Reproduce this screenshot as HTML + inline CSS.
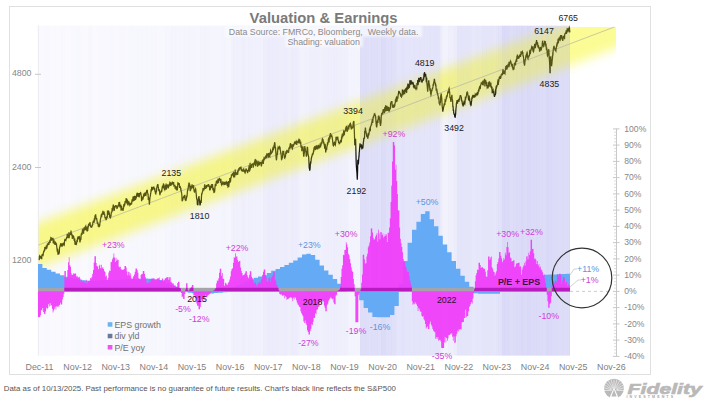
<!DOCTYPE html>
<html><head><meta charset="utf-8"><style>
html,body{margin:0;padding:0;background:#fff;}
body{width:724px;height:404px;overflow:hidden;position:relative;font-family:"Liberation Sans",sans-serif;}
svg{position:absolute;left:0;top:0;}
</style></head><body>
<svg width="724" height="404" viewBox="0 0 724 404" font-family="Liberation Sans, sans-serif">
<defs>
<filter id="soft" x="-10%" y="-50%" width="120%" height="200%"><feGaussianBlur stdDeviation="1.2"/></filter>
<clipPath id="magclip"><path d="M38.0 291.4 L38.00 316.91 L38.73 316.91 L38.73 316.91 L39.47 316.91 L39.47 316.91 L40.20 316.91 L40.20 315.24 L40.93 315.24 L40.93 310.06 L41.66 310.06 L41.66 310.43 L42.40 310.43 L42.40 308.04 L43.13 308.04 L43.13 311.97 L43.86 311.97 L43.86 313.70 L44.60 313.70 L44.60 314.15 L45.33 314.15 L45.33 311.38 L46.06 311.38 L46.06 307.77 L46.80 307.77 L46.80 309.13 L47.53 309.13 L47.53 307.88 L48.26 307.88 L48.26 304.13 L48.99 304.13 L48.99 306.58 L49.73 306.58 L49.73 303.11 L50.46 303.11 L50.46 305.69 L51.19 305.69 L51.19 305.28 L51.93 305.28 L51.93 308.78 L52.66 308.78 L52.66 312.52 L53.39 312.52 L53.39 310.45 L54.13 310.45 L54.13 308.86 L54.86 308.86 L54.86 306.81 L55.59 306.81 L55.59 309.44 L56.32 309.44 L56.32 306.35 L57.06 306.35 L57.06 307.11 L57.79 307.11 L57.79 305.86 L58.52 305.86 L58.52 307.04 L59.26 307.04 L59.26 304.94 L59.99 304.94 L59.99 302.76 L60.72 302.76 L60.72 304.57 L61.46 304.57 L61.46 304.56 L62.19 304.56 L62.19 299.39 L62.92 299.39 L62.92 297.09 L63.65 297.09 L63.65 293.80 L64.39 293.80 L64.39 271.09 L65.12 271.09 L65.12 271.09 L65.85 271.09 L65.85 278.34 L66.59 278.34 L66.59 278.60 L67.32 278.60 L67.32 270.01 L68.05 270.01 L68.05 262.31 L68.79 262.31 L68.79 257.27 L69.52 257.27 L69.52 265.30 L70.25 265.30 L70.25 266.76 L70.98 266.76 L70.98 273.18 L71.72 273.18 L71.72 274.98 L72.45 274.98 L72.45 274.53 L73.18 274.53 L73.18 273.33 L73.92 273.33 L73.92 273.72 L74.65 273.72 L74.65 273.52 L75.38 273.52 L75.38 273.52 L76.12 273.52 L76.12 276.45 L76.85 276.45 L76.85 275.92 L77.58 275.92 L77.58 277.26 L78.31 277.26 L78.31 277.41 L79.05 277.41 L79.05 276.77 L79.78 276.77 L79.78 278.51 L80.51 278.51 L80.51 281.54 L81.25 281.54 L81.25 279.70 L81.98 279.70 L81.98 282.03 L82.71 282.03 L82.71 280.55 L83.45 280.55 L83.45 281.30 L84.18 281.30 L84.18 282.49 L84.91 282.49 L84.91 281.84 L85.65 281.84 L85.65 283.87 L86.38 283.87 L86.38 279.83 L87.11 279.83 L87.11 283.33 L87.84 283.33 L87.84 281.56 L88.58 281.56 L88.58 280.70 L89.31 280.70 L89.31 280.82 L90.04 280.82 L90.04 277.89 L90.78 277.89 L90.78 278.56 L91.51 278.56 L91.51 276.67 L92.24 276.67 L92.24 273.71 L92.98 273.71 L92.98 270.06 L93.71 270.06 L93.71 262.46 L94.44 262.46 L94.44 256.14 L95.17 256.14 L95.17 256.14 L95.91 256.14 L95.91 262.90 L96.64 262.90 L96.64 265.94 L97.37 265.94 L97.37 266.52 L98.11 266.52 L98.11 269.16 L98.84 269.16 L98.84 265.45 L99.57 265.45 L99.57 264.67 L100.31 264.67 L100.31 268.23 L101.04 268.23 L101.04 264.75 L101.77 264.75 L101.77 268.36 L102.50 268.36 L102.50 267.12 L103.24 267.12 L103.24 269.06 L103.97 269.06 L103.97 270.87 L104.70 270.87 L104.70 272.06 L105.44 272.06 L105.44 276.50 L106.17 276.50 L106.17 275.42 L106.90 275.42 L106.90 280.07 L107.64 280.07 L107.64 277.96 L108.37 277.96 L108.37 272.52 L109.10 272.52 L109.10 270.56 L109.83 270.56 L109.83 271.09 L110.57 271.09 L110.57 262.31 L111.30 262.31 L111.30 261.67 L112.03 261.67 L112.03 259.26 L112.77 259.26 L112.77 257.60 L113.50 257.60 L113.50 253.54 L114.23 253.54 L114.23 257.55 L114.97 257.55 L114.97 262.04 L115.70 262.04 L115.70 257.87 L116.43 257.87 L116.43 260.63 L117.16 260.63 L117.16 259.41 L117.90 259.41 L117.90 259.88 L118.63 259.88 L118.63 266.47 L119.36 266.47 L119.36 267.20 L120.10 267.20 L120.10 266.72 L120.83 266.72 L120.83 269.13 L121.56 269.13 L121.56 269.60 L122.30 269.60 L122.30 269.98 L123.03 269.98 L123.03 269.64 L123.76 269.64 L123.76 268.92 L124.49 268.92 L124.49 266.05 L125.23 266.05 L125.23 266.05 L125.96 266.05 L125.96 267.56 L126.69 267.56 L126.69 271.56 L127.43 271.56 L127.43 275.16 L128.16 275.16 L128.16 271.87 L128.89 271.87 L128.89 272.22 L129.63 272.22 L129.63 275.43 L130.36 275.43 L130.36 273.31 L131.09 273.31 L131.09 278.21 L131.82 278.21 L131.82 279.29 L132.56 279.29 L132.56 277.47 L133.29 277.47 L133.29 276.08 L134.02 276.08 L134.02 274.54 L134.76 274.54 L134.76 271.83 L135.49 271.83 L135.49 268.49 L136.22 268.49 L136.22 268.49 L136.96 268.49 L136.96 270.06 L137.69 270.06 L137.69 272.87 L138.42 272.87 L138.42 278.29 L139.15 278.29 L139.15 279.05 L139.89 279.05 L139.89 280.24 L140.62 280.24 L140.62 274.97 L141.35 274.97 L141.35 273.95 L142.09 273.95 L142.09 273.65 L142.82 273.65 L142.82 271.09 L143.55 271.09 L143.55 271.09 L144.29 271.09 L144.29 273.63 L145.02 273.63 L145.02 277.00 L145.75 277.00 L145.75 279.54 L146.48 279.54 L146.48 282.83 L147.22 282.83 L147.22 283.20 L147.95 283.20 L147.95 282.14 L148.68 282.14 L148.68 282.99 L149.42 282.99 L149.42 279.62 L150.15 279.62 L150.15 281.60 L150.88 281.60 L150.88 279.10 L151.62 279.10 L151.62 278.56 L152.35 278.56 L152.35 278.56 L153.08 278.56 L153.08 278.13 L153.81 278.13 L153.81 278.54 L154.55 278.54 L154.55 279.81 L155.28 279.81 L155.28 280.48 L156.01 280.48 L156.01 279.70 L156.75 279.70 L156.75 278.56 L157.48 278.56 L157.48 278.56 L158.21 278.56 L158.21 278.21 L158.95 278.21 L158.95 277.54 L159.68 277.54 L159.68 280.25 L160.41 280.25 L160.41 280.90 L161.14 280.90 L161.14 280.05 L161.88 280.05 L161.88 278.22 L162.61 278.22 L162.61 279.35 L163.34 279.35 L163.34 280.61 L164.08 280.61 L164.08 279.74 L164.81 279.74 L164.81 278.20 L165.54 278.20 L165.54 278.25 L166.28 278.25 L166.28 277.26 L167.01 277.26 L167.01 277.26 L167.74 277.26 L167.74 277.09 L168.47 277.09 L168.47 279.76 L169.21 279.76 L169.21 277.26 L169.94 277.26 L169.94 277.26 L170.67 277.26 L170.67 281.68 L171.41 281.68 L171.41 282.60 L172.14 282.60 L172.14 283.38 L172.87 283.38 L172.87 283.27 L173.61 283.27 L173.61 285.49 L174.34 285.49 L174.34 285.79 L175.07 285.79 L175.07 285.38 L175.80 285.38 L175.80 286.80 L176.54 286.80 L176.54 286.98 L177.27 286.98 L177.27 282.99 L178.00 282.99 L178.00 281.65 L178.74 281.65 L178.74 281.65 L179.47 281.65 L179.47 288.12 L180.20 288.12 L180.20 288.47 L180.94 288.47 L180.94 293.05 L181.67 293.05 L181.67 297.25 L182.40 297.25 L182.40 296.56 L183.13 296.56 L183.13 298.88 L183.87 298.88 L183.87 298.88 L184.60 298.88 L184.60 293.88 L185.33 293.88 L185.33 289.62 L186.07 289.62 L186.07 283.27 L186.80 283.27 L186.80 283.27 L187.53 283.27 L187.53 290.07 L188.27 290.07 L188.27 292.05 L189.00 292.05 L189.00 290.42 L189.73 290.42 L189.73 288.65 L190.46 288.65 L190.46 287.71 L191.20 287.71 L191.20 286.80 L191.93 286.80 L191.93 285.06 L192.66 285.06 L192.66 285.06 L193.40 285.06 L193.40 295.46 L194.13 295.46 L194.13 295.38 L194.86 295.38 L194.86 298.05 L195.60 298.05 L195.60 298.62 L196.33 298.62 L196.33 303.48 L197.06 303.48 L197.06 305.86 L197.79 305.86 L197.79 305.65 L198.53 305.65 L198.53 309.27 L199.26 309.27 L199.26 309.27 L199.99 309.27 L199.99 306.94 L200.73 306.94 L200.73 301.25 L201.46 301.25 L201.46 299.79 L202.19 299.79 L202.19 301.74 L202.93 301.74 L202.93 298.88 L203.66 298.88 L203.66 296.31 L204.39 296.31 L204.39 300.29 L205.12 300.29 L205.12 295.50 L205.86 295.50 L205.86 297.00 L206.59 297.00 L206.59 297.25 L207.32 297.25 L207.32 295.76 L208.06 295.76 L208.06 294.91 L208.79 294.91 L208.79 294.28 L209.52 294.28 L209.52 293.87 L210.26 293.87 L210.26 292.70 L210.99 292.70 L210.99 292.04 L211.72 292.04 L211.72 291.73 L212.45 291.73 L212.45 291.07 L213.19 291.07 L213.19 290.86 L213.92 290.86 L213.92 290.39 L214.65 290.39 L214.65 289.45 L215.39 289.45 L215.39 288.13 L216.12 288.13 L216.12 283.27 L216.85 283.27 L216.85 280.60 L217.59 280.60 L217.59 280.63 L218.32 280.63 L218.32 278.37 L219.05 278.37 L219.05 272.80 L219.78 272.80 L219.78 268.65 L220.52 268.65 L220.52 268.65 L221.25 268.65 L221.25 275.71 L221.98 275.71 L221.98 272.88 L222.72 272.88 L222.72 278.49 L223.45 278.49 L223.45 278.90 L224.18 278.90 L224.18 285.87 L224.92 285.87 L224.92 282.66 L225.65 282.66 L225.65 283.26 L226.38 283.26 L226.38 284.54 L227.11 284.54 L227.11 284.79 L227.85 284.79 L227.85 282.85 L228.58 282.85 L228.58 281.76 L229.31 281.76 L229.31 279.59 L230.05 279.59 L230.05 276.61 L230.78 276.61 L230.78 271.25 L231.51 271.25 L231.51 269.04 L232.25 269.04 L232.25 268.18 L232.98 268.18 L232.98 262.74 L233.71 262.74 L233.71 257.27 L234.44 257.27 L234.44 257.65 L235.18 257.65 L235.18 253.29 L235.91 253.29 L235.91 256.46 L236.64 256.46 L236.64 256.46 L237.38 256.46 L237.38 260.07 L238.11 260.07 L238.11 261.96 L238.84 261.96 L238.84 261.25 L239.58 261.25 L239.58 260.85 L240.31 260.85 L240.31 267.51 L241.04 267.51 L241.04 271.04 L241.77 271.04 L241.77 272.88 L242.51 272.88 L242.51 275.58 L243.24 275.58 L243.24 274.97 L243.97 274.97 L243.97 274.44 L244.71 274.44 L244.71 273.32 L245.44 273.32 L245.44 271.25 L246.17 271.25 L246.17 271.25 L246.91 271.25 L246.91 274.93 L247.64 274.93 L247.64 276.86 L248.37 276.86 L248.37 278.20 L249.10 278.20 L249.10 274.64 L249.84 274.64 L249.84 271.25 L250.57 271.25 L250.57 271.25 L251.30 271.25 L251.30 276.50 L252.04 276.50 L252.04 277.94 L252.77 277.94 L252.77 280.44 L253.50 280.44 L253.50 282.97 L254.24 282.97 L254.24 282.79 L254.97 282.79 L254.97 281.99 L255.70 281.99 L255.70 284.17 L256.43 284.17 L256.43 286.53 L257.17 286.53 L257.17 284.52 L257.90 284.52 L257.90 283.48 L258.63 283.48 L258.63 282.21 L259.37 282.21 L259.37 281.65 L260.10 281.65 L260.10 282.95 L260.83 282.95 L260.83 279.76 L261.57 279.76 L261.57 278.49 L262.30 278.49 L262.30 274.86 L263.03 274.86 L263.03 271.79 L263.76 271.79 L263.76 269.46 L264.50 269.46 L264.50 269.46 L265.23 269.46 L265.23 275.04 L265.96 275.04 L265.96 277.33 L266.70 277.33 L266.70 281.29 L267.43 281.29 L267.43 281.60 L268.16 281.60 L268.16 278.76 L268.90 278.76 L268.90 277.79 L269.63 277.79 L269.63 278.07 L270.36 278.07 L270.36 281.99 L271.09 281.99 L271.09 277.84 L271.83 277.84 L271.83 276.59 L272.56 276.59 L272.56 275.24 L273.29 275.24 L273.29 272.06 L274.03 272.06 L274.03 272.06 L274.76 272.06 L274.76 279.53 L275.49 279.53 L275.49 280.74 L276.23 280.74 L276.23 284.75 L276.96 284.75 L276.96 285.27 L277.69 285.27 L277.69 287.64 L278.42 287.64 L278.42 290.11 L279.16 290.11 L279.16 293.84 L279.89 293.84 L279.89 294.41 L280.62 294.41 L280.62 294.43 L281.36 294.43 L281.36 294.44 L282.09 294.44 L282.09 295.81 L282.82 295.81 L282.82 295.80 L283.56 295.80 L283.56 295.11 L284.29 295.11 L284.29 298.20 L285.02 298.20 L285.02 296.01 L285.75 296.01 L285.75 296.92 L286.49 296.92 L286.49 300.12 L287.22 300.12 L287.22 299.04 L287.95 299.04 L287.95 299.04 L288.69 299.04 L288.69 297.91 L289.42 297.91 L289.42 297.82 L290.15 297.82 L290.15 297.18 L290.89 297.18 L290.89 297.50 L291.62 297.50 L291.62 298.15 L292.35 298.15 L292.35 301.37 L293.08 301.37 L293.08 297.43 L293.82 297.43 L293.82 299.50 L294.55 299.50 L294.55 297.28 L295.28 297.28 L295.28 297.72 L296.02 297.72 L296.02 300.16 L296.75 300.16 L296.75 302.45 L297.48 302.45 L297.48 304.57 L298.22 304.57 L298.22 305.28 L298.95 305.28 L298.95 306.86 L299.68 306.86 L299.68 307.24 L300.41 307.24 L300.41 311.22 L301.15 311.22 L301.15 313.26 L301.88 313.26 L301.88 314.82 L302.61 314.82 L302.61 316.36 L303.35 316.36 L303.35 321.62 L304.08 321.62 L304.08 322.99 L304.81 322.99 L304.81 320.53 L305.55 320.53 L305.55 323.17 L306.28 323.17 L306.28 324.93 L307.01 324.93 L307.01 330.24 L307.74 330.24 L307.74 331.88 L308.48 331.88 L308.48 334.62 L309.21 334.62 L309.21 334.62 L309.94 334.62 L309.94 331.08 L310.68 331.08 L310.68 328.68 L311.41 328.68 L311.41 324.13 L312.14 324.13 L312.14 325.04 L312.88 325.04 L312.88 321.67 L313.61 321.67 L313.61 317.76 L314.34 317.76 L314.34 318.05 L315.07 318.05 L315.07 313.15 L315.81 313.15 L315.81 314.14 L316.54 314.14 L316.54 309.74 L317.27 309.74 L317.27 309.44 L318.01 309.44 L318.01 306.92 L318.74 306.92 L318.74 306.48 L319.47 306.48 L319.47 302.43 L320.21 302.43 L320.21 300.80 L320.94 300.80 L320.94 303.36 L321.67 303.36 L321.67 300.10 L322.40 300.10 L322.40 302.10 L323.14 302.10 L323.14 301.22 L323.87 301.22 L323.87 305.54 L324.60 305.54 L324.60 307.76 L325.34 307.76 L325.34 311.22 L326.07 311.22 L326.07 311.22 L326.80 311.22 L326.80 305.18 L327.54 305.18 L327.54 303.81 L328.27 303.81 L328.27 300.82 L329.00 300.82 L329.00 299.49 L329.73 299.49 L329.73 298.45 L330.47 298.45 L330.47 297.28 L331.20 297.28 L331.20 298.41 L331.93 298.41 L331.93 299.47 L332.67 299.47 L332.67 298.50 L333.40 298.50 L333.40 302.59 L334.13 302.59 L334.13 304.24 L334.87 304.24 L334.87 304.24 L335.60 304.24 L335.60 295.54 L336.33 295.54 L336.33 294.76 L337.06 294.76 L337.06 292.05 L337.80 292.05 L337.80 290.45 L338.53 290.45 L338.53 290.32 L339.26 290.32 L339.26 289.45 L340.00 289.45 L340.00 286.60 L340.73 286.60 L340.73 276.94 L341.46 276.94 L341.46 268.71 L342.20 268.71 L342.20 265.15 L342.93 265.15 L342.93 254.67 L343.66 254.67 L343.66 255.19 L344.39 255.19 L344.39 250.11 L345.13 250.11 L345.13 249.76 L345.86 249.76 L345.86 242.16 L346.59 242.16 L346.59 244.38 L347.33 244.38 L347.33 247.32 L348.06 247.32 L348.06 253.76 L348.79 253.76 L348.79 255.34 L349.53 255.34 L349.53 258.95 L350.26 258.95 L350.26 263.31 L350.99 263.31 L350.99 267.30 L351.72 267.30 L351.72 270.55 L352.46 270.55 L352.46 272.06 L353.19 272.06 L353.19 279.09 L353.92 279.09 L353.92 284.36 L354.66 284.36 L354.66 296.27 L355.39 296.27 L355.39 322.27 L356.12 322.27 L356.12 322.27 L356.86 322.27 L356.86 322.27 L357.59 322.27 L357.59 322.27 L358.32 322.27 L358.32 294.65 L359.05 294.65 L359.05 292.94 L359.79 292.94 L359.79 291.53 L360.52 291.53 L360.52 289.45 L361.25 289.45 L361.25 282.76 L361.99 282.76 L361.99 274.61 L362.72 274.61 L362.72 254.67 L363.45 254.67 L363.45 254.67 L364.19 254.67 L364.19 259.15 L364.92 259.15 L364.92 263.42 L365.65 263.42 L365.65 263.16 L366.38 263.16 L366.38 256.51 L367.12 256.51 L367.12 253.86 L367.85 253.86 L367.85 247.20 L368.58 247.20 L368.58 245.51 L369.32 245.51 L369.32 242.44 L370.05 242.44 L370.05 236.30 L370.78 236.30 L370.78 228.51 L371.52 228.51 L371.52 228.51 L372.25 228.51 L372.25 232.56 L372.98 232.56 L372.98 237.76 L373.71 237.76 L373.71 239.81 L374.45 239.81 L374.45 238.87 L375.18 238.87 L375.18 236.48 L375.91 236.48 L375.91 234.89 L376.65 234.89 L376.65 233.00 L377.38 233.00 L377.38 241.59 L378.11 241.59 L378.11 229.81 L378.85 229.81 L378.85 233.38 L379.58 233.38 L379.58 239.37 L380.31 239.37 L380.31 231.98 L381.04 231.98 L381.04 232.18 L381.78 232.18 L381.78 235.37 L382.51 235.37 L382.51 233.55 L383.24 233.55 L383.24 237.41 L383.98 237.41 L383.98 236.45 L384.71 236.45 L384.71 234.28 L385.44 234.28 L385.44 235.96 L386.18 235.96 L386.18 234.31 L386.91 234.31 L386.91 241.99 L387.64 241.99 L387.64 232.74 L388.37 232.74 L388.37 232.69 L389.11 232.69 L389.11 227.38 L389.84 227.38 L389.84 218.27 L390.57 218.27 L390.57 202.02 L391.31 202.02 L391.31 185.77 L392.04 185.77 L392.04 161.40 L392.77 161.40 L392.77 141.90 L393.51 141.90 L393.51 141.90 L394.24 141.90 L394.24 145.15 L394.97 145.15 L394.97 169.60 L395.70 169.60 L395.70 164.65 L396.44 164.65 L396.44 180.90 L397.17 180.90 L397.17 193.90 L397.90 193.90 L397.90 210.59 L398.64 210.59 L398.64 210.15 L399.37 210.15 L399.37 227.38 L400.10 227.38 L400.10 238.85 L400.84 238.85 L400.84 243.30 L401.57 243.30 L401.57 246.89 L402.30 246.89 L402.30 252.24 L403.03 252.24 L403.03 258.89 L403.77 258.89 L403.77 261.38 L404.50 261.38 L404.50 262.15 L405.23 262.15 L405.23 266.18 L405.97 266.18 L405.97 267.89 L406.70 267.89 L406.70 271.42 L407.43 271.42 L407.43 272.06 L408.17 272.06 L408.17 272.06 L408.90 272.06 L408.90 276.18 L409.63 276.18 L409.63 280.14 L410.36 280.14 L410.36 283.54 L411.10 283.54 L411.10 286.34 L411.83 286.34 L411.83 301.15 L412.56 301.15 L412.56 304.71 L413.30 304.71 L413.30 303.59 L414.03 303.59 L414.03 304.22 L414.76 304.22 L414.76 302.36 L415.50 302.36 L415.50 303.59 L416.23 303.59 L416.23 304.48 L416.96 304.48 L416.96 306.03 L417.69 306.03 L417.69 310.90 L418.43 310.90 L418.43 308.11 L419.16 308.11 L419.16 309.51 L419.89 309.51 L419.89 311.58 L420.63 311.58 L420.63 311.71 L421.36 311.71 L421.36 315.77 L422.09 315.77 L422.09 316.64 L422.83 316.64 L422.83 316.20 L423.56 316.20 L423.56 319.22 L424.29 319.22 L424.29 320.43 L425.02 320.43 L425.02 323.92 L425.76 323.92 L425.76 328.61 L426.49 328.61 L426.49 327.33 L427.22 327.33 L427.22 326.19 L427.96 326.19 L427.96 329.10 L428.69 329.10 L428.69 329.10 L429.42 329.10 L429.42 323.73 L430.16 323.73 L430.16 321.47 L430.89 321.47 L430.89 324.76 L431.62 324.76 L431.62 326.44 L432.35 326.44 L432.35 329.10 L433.09 329.10 L433.09 330.80 L433.82 330.80 L433.82 331.38 L434.55 331.38 L434.55 332.28 L435.29 332.28 L435.29 338.85 L436.02 338.85 L436.02 337.30 L436.75 337.30 L436.75 339.02 L437.49 339.02 L437.49 337.03 L438.22 337.03 L438.22 340.64 L438.95 340.64 L438.95 340.02 L439.68 340.02 L439.68 339.65 L440.42 339.65 L440.42 341.52 L441.15 341.52 L441.15 347.73 L441.88 347.73 L441.88 348.30 L442.62 348.30 L442.62 348.11 L443.35 348.11 L443.35 348.11 L444.08 348.11 L444.08 342.59 L444.82 342.59 L444.82 337.11 L445.55 337.11 L445.55 342.42 L446.28 342.42 L446.28 337.89 L447.01 337.89 L447.01 340.64 L447.75 340.64 L447.75 338.23 L448.48 338.23 L448.48 334.89 L449.21 334.89 L449.21 335.11 L449.95 335.11 L449.95 333.73 L450.68 333.73 L450.68 334.67 L451.41 334.67 L451.41 333.16 L452.15 333.16 L452.15 336.66 L452.88 336.66 L452.88 340.64 L453.61 340.64 L453.61 336.60 L454.34 336.60 L454.34 343.06 L455.08 343.06 L455.08 342.42 L455.81 342.42 L455.81 336.18 L456.54 336.18 L456.54 333.84 L457.28 333.84 L457.28 330.87 L458.01 330.87 L458.01 331.38 L458.74 331.38 L458.74 329.33 L459.48 329.33 L459.48 329.82 L460.21 329.82 L460.21 329.11 L460.94 329.11 L460.94 329.42 L461.67 329.42 L461.67 322.42 L462.41 322.42 L462.41 322.03 L463.14 322.03 L463.14 322.11 L463.87 322.11 L463.87 317.95 L464.61 317.95 L464.61 318.00 L465.34 318.00 L465.34 309.85 L466.07 309.85 L466.07 317.28 L466.81 317.28 L466.81 316.10 L467.54 316.10 L467.54 316.10 L468.27 316.10 L468.27 311.21 L469.00 311.21 L469.00 306.91 L469.74 306.91 L469.74 305.76 L470.47 305.76 L470.47 303.80 L471.20 303.80 L471.20 301.94 L471.94 301.94 L471.94 303.59 L472.67 303.59 L472.67 298.47 L473.40 298.47 L473.40 293.18 L474.14 293.18 L474.14 289.24 L474.87 289.24 L474.87 281.17 L475.60 281.17 L475.60 275.15 L476.33 275.15 L476.33 272.92 L477.07 272.92 L477.07 269.44 L477.80 269.44 L477.80 269.92 L478.53 269.92 L478.53 262.64 L479.27 262.64 L479.27 262.64 L480.00 262.64 L480.00 264.92 L480.73 264.92 L480.73 268.03 L481.47 268.03 L481.47 267.02 L482.20 267.02 L482.20 267.16 L482.93 267.16 L482.93 268.17 L483.66 268.17 L483.66 268.65 L484.40 268.65 L484.40 268.80 L485.13 268.80 L485.13 271.74 L485.86 271.74 L485.86 276.22 L486.60 276.22 L486.60 277.07 L487.33 277.07 L487.33 270.36 L488.06 270.36 L488.06 256.46 L488.80 256.46 L488.80 256.46 L489.53 256.46 L489.53 259.70 L490.26 259.70 L490.26 257.48 L490.99 257.48 L490.99 256.46 L491.73 256.46 L491.73 267.15 L492.46 267.15 L492.46 268.65 L493.19 268.65 L493.19 271.47 L493.93 271.47 L493.93 271.93 L494.66 271.93 L494.66 275.61 L495.39 275.61 L495.39 273.34 L496.13 273.34 L496.13 271.36 L496.86 271.36 L496.86 264.10 L497.59 264.10 L497.59 261.89 L498.32 261.89 L498.32 258.59 L499.06 258.59 L499.06 251.91 L499.79 251.91 L499.79 251.91 L500.52 251.91 L500.52 255.64 L501.26 255.64 L501.26 258.21 L501.99 258.21 L501.99 262.22 L502.72 262.22 L502.72 260.50 L503.46 260.50 L503.46 257.92 L504.19 257.92 L504.19 259.46 L504.92 259.46 L504.92 252.72 L505.65 252.72 L505.65 255.34 L506.39 255.34 L506.39 247.10 L507.12 247.10 L507.12 242.00 L507.85 242.00 L507.85 247.14 L508.59 247.14 L508.59 253.06 L509.32 253.06 L509.32 251.91 L510.05 251.91 L510.05 257.42 L510.79 257.42 L510.79 258.17 L511.52 258.17 L511.52 261.45 L512.25 261.45 L512.25 260.93 L512.98 260.93 L512.98 260.59 L513.72 260.59 L513.72 260.36 L514.45 260.36 L514.45 267.36 L515.18 267.36 L515.18 266.25 L515.92 266.25 L515.92 263.62 L516.65 263.62 L516.65 263.39 L517.38 263.39 L517.38 262.91 L518.12 262.91 L518.12 262.64 L518.85 262.64 L518.85 262.64 L519.58 262.64 L519.58 266.79 L520.31 266.79 L520.31 266.35 L521.05 266.35 L521.05 274.65 L521.78 274.65 L521.78 269.83 L522.51 269.83 L522.51 267.29 L523.25 267.29 L523.25 265.57 L523.98 265.57 L523.98 262.64 L524.71 262.64 L524.71 265.39 L525.45 265.39 L525.45 261.20 L526.18 261.20 L526.18 256.46 L526.91 256.46 L526.91 256.34 L527.64 256.34 L527.64 259.30 L528.38 259.30 L528.38 252.72 L529.11 252.72 L529.11 254.98 L529.84 254.98 L529.84 251.17 L530.58 251.17 L530.58 239.72 L531.31 239.72 L531.31 239.72 L532.04 239.72 L532.04 249.04 L532.78 249.04 L532.78 248.72 L533.51 248.72 L533.51 253.37 L534.24 253.37 L534.24 258.71 L534.97 258.71 L534.97 258.45 L535.71 258.45 L535.71 259.88 L536.44 259.88 L536.44 264.09 L537.17 264.09 L537.17 261.12 L537.91 261.12 L537.91 265.45 L538.64 265.45 L538.64 264.10 L539.37 264.10 L539.37 267.57 L540.11 267.57 L540.11 266.41 L540.84 266.41 L540.84 269.60 L541.57 269.60 L541.57 270.27 L542.30 270.27 L542.30 272.22 L543.04 272.22 L543.04 275.61 L543.77 275.61 L543.77 274.34 L544.50 274.34 L544.50 278.40 L545.24 278.40 L545.24 282.95 L545.97 282.95 L545.97 287.32 L546.70 287.32 L546.70 294.65 L547.43 294.65 L547.43 301.15 L548.17 301.15 L548.17 307.65 L548.90 307.65 L548.90 307.65 L549.63 307.65 L549.63 303.64 L550.37 303.64 L550.37 302.77 L551.10 302.77 L551.10 296.27 L551.83 296.27 L551.83 284.90 L552.57 284.90 L552.57 287.41 L553.30 287.41 L553.30 281.65 L554.03 281.65 L554.03 283.30 L554.76 283.30 L554.76 280.67 L555.50 280.67 L555.50 280.67 L556.23 280.67 L556.23 282.31 L556.96 282.31 L556.96 274.34 L557.70 274.34 L557.70 274.34 L558.43 274.34 L558.43 276.15 L559.16 276.15 L559.16 273.85 L559.90 273.85 L559.90 273.85 L560.63 273.85 L560.63 274.82 L561.36 274.82 L561.36 283.64 L562.09 283.64 L562.09 280.67 L562.83 280.67 L562.83 276.94 L563.56 276.94 L563.56 276.94 L564.29 276.94 L564.29 278.40 L565.03 278.40 L565.03 283.50 L565.76 283.50 L565.76 281.97 L566.49 281.97 L566.49 281.97 L567.23 281.97 L567.23 286.18 L567.96 286.18 L567.96 284.57 L568.69 284.57 L568.69 284.57 L569.42 284.57 L569.42 286.52 L570.00 286.52 L570.0 291.4 Z"/></clipPath>
<clipPath id="plot"><rect x="38" y="25.4" width="532" height="330.4"/></clipPath>
<clipPath id="bandclip"><rect x="38" y="27" width="578" height="330"/></clipPath>
<linearGradient id="bandg" gradientUnits="userSpaceOnUse" x1="289.03" y1="117.02" x2="310.97" y2="175.00">
<stop offset="0" stop-color="#fafa70" stop-opacity="0"/>
<stop offset="0.08" stop-color="#fafa70" stop-opacity="0.08"/>
<stop offset="0.16" stop-color="#fafa64" stop-opacity="0.3"/>
<stop offset="0.25" stop-color="#fafa5e" stop-opacity="0.56"/>
<stop offset="0.33" stop-color="#fafa5a" stop-opacity="0.64"/>
<stop offset="0.67" stop-color="#fafa5a" stop-opacity="0.64"/>
<stop offset="0.75" stop-color="#fafa5e" stop-opacity="0.56"/>
<stop offset="0.84" stop-color="#fafa64" stop-opacity="0.3"/>
<stop offset="0.92" stop-color="#fafa70" stop-opacity="0.08"/>
<stop offset="1" stop-color="#fafa70" stop-opacity="0"/>
</linearGradient>
<linearGradient id="lineg" gradientUnits="userSpaceOnUse" x1="289.03" y1="117.02" x2="310.97" y2="175.00">
<stop offset="0" stop-color="#101010"/>
<stop offset="0.12" stop-color="#202014"/>
<stop offset="0.3" stop-color="#525214"/>
<stop offset="0.5" stop-color="#5c5c16"/>
<stop offset="0.7" stop-color="#525214"/>
<stop offset="0.88" stop-color="#202014"/>
<stop offset="1" stop-color="#101010"/>
</linearGradient>
</defs>
<rect x="0" y="0" width="724" height="404" fill="#fff"/>
<rect x="9.5" y="6.5" width="641" height="368" fill="none" stroke="#e0e0e0" stroke-width="1"/>
<rect x="38" y="25.4" width="532" height="330.4" fill="#fdfdff"/>
<g clip-path="url(#bandclip)">
<path d="M38 175.19 L616 -43.61 L616 96.39 L38 315.19 Z" fill="url(#bandg)"/>
</g>
<g clip-path="url(#plot)">
<rect x="38.0" y="25.4" width="6.1" height="330.4" fill="#b4b4f0" fill-opacity="0.051"/>
<rect x="44.0" y="25.4" width="2.1" height="330.4" fill="#b4b4f0" fill-opacity="0.060"/>
<rect x="46.0" y="25.4" width="4.1" height="330.4" fill="#b4b4f0" fill-opacity="0.064"/>
<rect x="50.0" y="25.4" width="3.1" height="330.4" fill="#b4b4f0" fill-opacity="0.057"/>
<rect x="53.0" y="25.4" width="2.1" height="330.4" fill="#b4b4f0" fill-opacity="0.049"/>
<rect x="55.0" y="25.4" width="6.1" height="330.4" fill="#b4b4f0" fill-opacity="0.051"/>
<rect x="61.0" y="25.4" width="4.1" height="330.4" fill="#b4b4f0" fill-opacity="0.071"/>
<rect x="65.0" y="25.4" width="6.1" height="330.4" fill="#b4b4f0" fill-opacity="0.057"/>
<rect x="71.0" y="25.4" width="5.1" height="330.4" fill="#b4b4f0" fill-opacity="0.070"/>
<rect x="76.0" y="25.4" width="4.1" height="330.4" fill="#b4b4f0" fill-opacity="0.075"/>
<rect x="80.0" y="25.4" width="3.1" height="330.4" fill="#b4b4f0" fill-opacity="0.059"/>
<rect x="83.0" y="25.4" width="5.1" height="330.4" fill="#b4b4f0" fill-opacity="0.058"/>
<rect x="88.0" y="25.4" width="4.1" height="330.4" fill="#b4b4f0" fill-opacity="0.077"/>
<rect x="92.0" y="25.4" width="5.1" height="330.4" fill="#b4b4f0" fill-opacity="0.057"/>
<rect x="97.0" y="25.4" width="4.1" height="330.4" fill="#b4b4f0" fill-opacity="0.064"/>
<rect x="101.0" y="25.4" width="4.1" height="330.4" fill="#b4b4f0" fill-opacity="0.066"/>
<rect x="105.0" y="25.4" width="5.1" height="330.4" fill="#b4b4f0" fill-opacity="0.064"/>
<rect x="110.0" y="25.4" width="3.1" height="330.4" fill="#b4b4f0" fill-opacity="0.081"/>
<rect x="113.0" y="25.4" width="6.1" height="330.4" fill="#b4b4f0" fill-opacity="0.070"/>
<rect x="119.0" y="25.4" width="5.1" height="330.4" fill="#b4b4f0" fill-opacity="0.076"/>
<rect x="124.0" y="25.4" width="4.1" height="330.4" fill="#b4b4f0" fill-opacity="0.061"/>
<rect x="128.0" y="25.4" width="4.1" height="330.4" fill="#b4b4f0" fill-opacity="0.081"/>
<rect x="132.0" y="25.4" width="5.1" height="330.4" fill="#b4b4f0" fill-opacity="0.079"/>
<rect x="137.0" y="25.4" width="5.1" height="330.4" fill="#b4b4f0" fill-opacity="0.083"/>
<rect x="142.0" y="25.4" width="4.1" height="330.4" fill="#b4b4f0" fill-opacity="0.074"/>
<rect x="146.0" y="25.4" width="5.1" height="330.4" fill="#b4b4f0" fill-opacity="0.078"/>
<rect x="151.0" y="25.4" width="4.1" height="330.4" fill="#b4b4f0" fill-opacity="0.088"/>
<rect x="155.0" y="25.4" width="2.1" height="330.4" fill="#b4b4f0" fill-opacity="0.073"/>
<rect x="157.0" y="25.4" width="2.1" height="330.4" fill="#b4b4f0" fill-opacity="0.067"/>
<rect x="159.0" y="25.4" width="6.1" height="330.4" fill="#b4b4f0" fill-opacity="0.076"/>
<rect x="165.0" y="25.4" width="6.1" height="330.4" fill="#b4b4f0" fill-opacity="0.097"/>
<rect x="171.0" y="25.4" width="4.1" height="330.4" fill="#b4b4f0" fill-opacity="0.101"/>
<rect x="175.0" y="25.4" width="2.1" height="330.4" fill="#b4b4f0" fill-opacity="0.100"/>
<rect x="177.0" y="25.4" width="2.1" height="330.4" fill="#b4b4f0" fill-opacity="0.097"/>
<rect x="179.0" y="25.4" width="5.1" height="330.4" fill="#b4b4f0" fill-opacity="0.102"/>
<rect x="184.0" y="25.4" width="2.1" height="330.4" fill="#b4b4f0" fill-opacity="0.106"/>
<rect x="186.0" y="25.4" width="3.1" height="330.4" fill="#b4b4f0" fill-opacity="0.100"/>
<rect x="189.0" y="25.4" width="2.1" height="330.4" fill="#b4b4f0" fill-opacity="0.105"/>
<rect x="191.0" y="25.4" width="5.1" height="330.4" fill="#b4b4f0" fill-opacity="0.109"/>
<rect x="196.0" y="25.4" width="4.1" height="330.4" fill="#b4b4f0" fill-opacity="0.099"/>
<rect x="200.0" y="25.4" width="5.1" height="330.4" fill="#b4b4f0" fill-opacity="0.113"/>
<rect x="205.0" y="25.4" width="4.1" height="330.4" fill="#b4b4f0" fill-opacity="0.118"/>
<rect x="209.0" y="25.4" width="3.1" height="330.4" fill="#b4b4f0" fill-opacity="0.110"/>
<rect x="212.0" y="25.4" width="6.1" height="330.4" fill="#b4b4f0" fill-opacity="0.109"/>
<rect x="218.0" y="25.4" width="4.1" height="330.4" fill="#b4b4f0" fill-opacity="0.103"/>
<rect x="222.0" y="25.4" width="4.1" height="330.4" fill="#b4b4f0" fill-opacity="0.122"/>
<rect x="226.0" y="25.4" width="5.1" height="330.4" fill="#b4b4f0" fill-opacity="0.106"/>
<rect x="231.0" y="25.4" width="2.1" height="330.4" fill="#b4b4f0" fill-opacity="0.148"/>
<rect x="233.0" y="25.4" width="3.1" height="330.4" fill="#b4b4f0" fill-opacity="0.160"/>
<rect x="236.0" y="25.4" width="5.1" height="330.4" fill="#b4b4f0" fill-opacity="0.160"/>
<rect x="241.0" y="25.4" width="4.1" height="330.4" fill="#b4b4f0" fill-opacity="0.180"/>
<rect x="245.0" y="25.4" width="3.1" height="330.4" fill="#b4b4f0" fill-opacity="0.157"/>
<rect x="248.0" y="25.4" width="3.1" height="330.4" fill="#b4b4f0" fill-opacity="0.170"/>
<rect x="251.0" y="25.4" width="4.1" height="330.4" fill="#b4b4f0" fill-opacity="0.164"/>
<rect x="255.0" y="25.4" width="5.1" height="330.4" fill="#b4b4f0" fill-opacity="0.157"/>
<rect x="260.0" y="25.4" width="3.1" height="330.4" fill="#b4b4f0" fill-opacity="0.153"/>
<rect x="263.0" y="25.4" width="5.1" height="330.4" fill="#b4b4f0" fill-opacity="0.213"/>
<rect x="268.0" y="25.4" width="4.1" height="330.4" fill="#b4b4f0" fill-opacity="0.229"/>
<rect x="272.0" y="25.4" width="6.1" height="330.4" fill="#b4b4f0" fill-opacity="0.224"/>
<rect x="278.0" y="25.4" width="6.1" height="330.4" fill="#b4b4f0" fill-opacity="0.209"/>
<rect x="284.0" y="25.4" width="3.1" height="330.4" fill="#b4b4f0" fill-opacity="0.230"/>
<rect x="287.0" y="25.4" width="4.1" height="330.4" fill="#b4b4f0" fill-opacity="0.193"/>
<rect x="291.0" y="25.4" width="6.1" height="330.4" fill="#b4b4f0" fill-opacity="0.223"/>
<rect x="297.0" y="25.4" width="2.1" height="330.4" fill="#b4b4f0" fill-opacity="0.194"/>
<rect x="299.0" y="25.4" width="6.1" height="330.4" fill="#b4b4f0" fill-opacity="0.154"/>
<rect x="305.0" y="25.4" width="4.1" height="330.4" fill="#b4b4f0" fill-opacity="0.164"/>
<rect x="309.0" y="25.4" width="5.1" height="330.4" fill="#b4b4f0" fill-opacity="0.182"/>
<rect x="314.0" y="25.4" width="3.1" height="330.4" fill="#b4b4f0" fill-opacity="0.179"/>
<rect x="317.0" y="25.4" width="6.1" height="330.4" fill="#b4b4f0" fill-opacity="0.168"/>
<rect x="323.0" y="25.4" width="5.1" height="330.4" fill="#b4b4f0" fill-opacity="0.192"/>
<rect x="328.0" y="25.4" width="6.1" height="330.4" fill="#b4b4f0" fill-opacity="0.205"/>
<rect x="334.0" y="25.4" width="2.1" height="330.4" fill="#b4b4f0" fill-opacity="0.198"/>
<rect x="336.0" y="25.4" width="5.1" height="330.4" fill="#b4b4f0" fill-opacity="0.183"/>
<rect x="341.0" y="25.4" width="3.1" height="330.4" fill="#b4b4f0" fill-opacity="0.167"/>
<rect x="344.0" y="25.4" width="4.1" height="330.4" fill="#b4b4f0" fill-opacity="0.169"/>
<rect x="348.0" y="25.4" width="6.1" height="330.4" fill="#b4b4f0" fill-opacity="0.139"/>
<rect x="354.0" y="25.4" width="3.1" height="330.4" fill="#b4b4f0" fill-opacity="0.123"/>
<rect x="357.0" y="25.4" width="3.1" height="330.4" fill="#b4b4f0" fill-opacity="0.113"/>
<rect x="360.0" y="25.4" width="6.1" height="330.4" fill="#b4b4f0" fill-opacity="0.423"/>
<rect x="366.0" y="25.4" width="2.1" height="330.4" fill="#b4b4f0" fill-opacity="0.406"/>
<rect x="368.0" y="25.4" width="3.1" height="330.4" fill="#b4b4f0" fill-opacity="0.395"/>
<rect x="371.0" y="25.4" width="6.1" height="330.4" fill="#b4b4f0" fill-opacity="0.413"/>
<rect x="377.0" y="25.4" width="4.1" height="330.4" fill="#b4b4f0" fill-opacity="0.403"/>
<rect x="381.0" y="25.4" width="4.1" height="330.4" fill="#b4b4f0" fill-opacity="0.449"/>
<rect x="385.0" y="25.4" width="6.1" height="330.4" fill="#b4b4f0" fill-opacity="0.412"/>
<rect x="391.0" y="25.4" width="5.1" height="330.4" fill="#b4b4f0" fill-opacity="0.403"/>
<rect x="396.0" y="25.4" width="6.1" height="330.4" fill="#b4b4f0" fill-opacity="0.335"/>
<rect x="402.0" y="25.4" width="2.1" height="330.4" fill="#b4b4f0" fill-opacity="0.357"/>
<rect x="404.0" y="25.4" width="6.1" height="330.4" fill="#b4b4f0" fill-opacity="0.331"/>
<rect x="410.0" y="25.4" width="4.1" height="330.4" fill="#b4b4f0" fill-opacity="0.317"/>
<rect x="414.0" y="25.4" width="5.1" height="330.4" fill="#b4b4f0" fill-opacity="0.344"/>
<rect x="419.0" y="25.4" width="5.1" height="330.4" fill="#b4b4f0" fill-opacity="0.337"/>
<rect x="424.0" y="25.4" width="6.1" height="330.4" fill="#b4b4f0" fill-opacity="0.338"/>
<rect x="430.0" y="25.4" width="4.1" height="330.4" fill="#b4b4f0" fill-opacity="0.346"/>
<rect x="434.0" y="25.4" width="2.1" height="330.4" fill="#b4b4f0" fill-opacity="0.335"/>
<rect x="436.0" y="25.4" width="4.1" height="330.4" fill="#b4b4f0" fill-opacity="0.354"/>
<rect x="440.0" y="25.4" width="2.1" height="330.4" fill="#b4b4f0" fill-opacity="0.222"/>
<rect x="442.0" y="25.4" width="6.1" height="330.4" fill="#b4b4f0" fill-opacity="0.152"/>
<rect x="448.0" y="25.4" width="3.1" height="330.4" fill="#b4b4f0" fill-opacity="0.181"/>
<rect x="451.0" y="25.4" width="3.1" height="330.4" fill="#b4b4f0" fill-opacity="0.180"/>
<rect x="454.0" y="25.4" width="3.1" height="330.4" fill="#b4b4f0" fill-opacity="0.225"/>
<rect x="457.0" y="25.4" width="4.1" height="330.4" fill="#b4b4f0" fill-opacity="0.323"/>
<rect x="461.0" y="25.4" width="2.1" height="330.4" fill="#b4b4f0" fill-opacity="0.332"/>
<rect x="463.0" y="25.4" width="6.1" height="330.4" fill="#b4b4f0" fill-opacity="0.321"/>
<rect x="469.0" y="25.4" width="2.1" height="330.4" fill="#b4b4f0" fill-opacity="0.302"/>
<rect x="471.0" y="25.4" width="5.1" height="330.4" fill="#b4b4f0" fill-opacity="0.285"/>
<rect x="476.0" y="25.4" width="6.1" height="330.4" fill="#b4b4f0" fill-opacity="0.298"/>
<rect x="482.0" y="25.4" width="4.1" height="330.4" fill="#b4b4f0" fill-opacity="0.317"/>
<rect x="486.0" y="25.4" width="6.1" height="330.4" fill="#b4b4f0" fill-opacity="0.317"/>
<rect x="492.0" y="25.4" width="4.1" height="330.4" fill="#b4b4f0" fill-opacity="0.300"/>
<rect x="496.0" y="25.4" width="2.1" height="330.4" fill="#b4b4f0" fill-opacity="0.322"/>
<rect x="498.0" y="25.4" width="4.1" height="330.4" fill="#b4b4f0" fill-opacity="0.375"/>
<rect x="502.0" y="25.4" width="2.1" height="330.4" fill="#b4b4f0" fill-opacity="0.470"/>
<rect x="504.0" y="25.4" width="5.1" height="330.4" fill="#b4b4f0" fill-opacity="0.469"/>
<rect x="509.0" y="25.4" width="4.1" height="330.4" fill="#b4b4f0" fill-opacity="0.425"/>
<rect x="513.0" y="25.4" width="3.1" height="330.4" fill="#b4b4f0" fill-opacity="0.443"/>
<rect x="516.0" y="25.4" width="5.1" height="330.4" fill="#b4b4f0" fill-opacity="0.451"/>
<rect x="521.0" y="25.4" width="2.1" height="330.4" fill="#b4b4f0" fill-opacity="0.480"/>
<rect x="523.0" y="25.4" width="4.1" height="330.4" fill="#b4b4f0" fill-opacity="0.452"/>
<rect x="527.0" y="25.4" width="3.1" height="330.4" fill="#b4b4f0" fill-opacity="0.477"/>
<rect x="530.0" y="25.4" width="6.1" height="330.4" fill="#b4b4f0" fill-opacity="0.459"/>
<rect x="536.0" y="25.4" width="6.1" height="330.4" fill="#b4b4f0" fill-opacity="0.448"/>
<rect x="542.0" y="25.4" width="4.1" height="330.4" fill="#b4b4f0" fill-opacity="0.439"/>
<rect x="546.0" y="25.4" width="2.1" height="330.4" fill="#b4b4f0" fill-opacity="0.486"/>
<rect x="548.0" y="25.4" width="3.1" height="330.4" fill="#b4b4f0" fill-opacity="0.471"/>
<rect x="551.0" y="25.4" width="6.1" height="330.4" fill="#b4b4f0" fill-opacity="0.453"/>
<rect x="557.0" y="25.4" width="5.1" height="330.4" fill="#b4b4f0" fill-opacity="0.436"/>
<rect x="562.0" y="25.4" width="5.1" height="330.4" fill="#b4b4f0" fill-opacity="0.434"/>
<rect x="567.0" y="25.4" width="2.1" height="330.4" fill="#b4b4f0" fill-opacity="0.433"/>
<rect x="569.0" y="25.4" width="1.1" height="330.4" fill="#b4b4f0" fill-opacity="0.462"/>
</g>
<g clip-path="url(#plot)" opacity="0.4">
<path d="M38 175.19 L616 -43.61 L616 96.39 L38 315.19 Z" fill="url(#bandg)"/>
</g>
<line x1="38.3" y1="25.4" x2="38.3" y2="355.8" stroke="#e6e6ee" stroke-width="0.8"/>
<line x1="38.5" y1="245.0" x2="614.4" y2="27.0" stroke="#b4b4a4" stroke-width="0.7"/>
<path d="M38.0 291.4 L38.00 263.98 L42.40 263.98 L42.40 268.02 L46.80 268.02 L46.80 269.85 L51.20 269.85 L51.20 271.67 L55.60 271.67 L55.60 273.48 L60.00 273.48 L60.00 275.22 L64.40 275.22 L64.40 276.73 L68.80 276.73 L68.80 278.09 L73.20 278.09 L73.20 278.96 L77.60 278.96 L77.60 279.69 L82.00 279.69 L82.00 280.31 L86.40 280.31 L86.40 280.71 L90.80 280.71 L90.80 280.72 L95.20 280.72 L95.20 280.54 L99.60 280.54 L99.60 280.36 L104.00 280.36 L104.00 280.18 L108.40 280.18 L108.40 280.00 L112.80 280.00 L112.80 279.82 L117.20 279.82 L117.20 279.64 L121.60 279.64 L121.60 279.46 L126.00 279.46 L126.00 279.29 L130.40 279.29 L130.40 279.09 L134.80 279.09 L134.80 278.89 L139.20 278.89 L139.20 278.68 L143.60 278.68 L143.60 278.47 L148.00 278.47 L148.00 278.76 L152.40 278.76 L152.40 279.33 L156.80 279.33 L156.80 279.90 L161.20 279.90 L161.20 281.37 L165.60 281.37 L165.60 283.12 L170.00 283.12 L170.00 284.86 L174.40 284.86 L174.40 286.71 L178.80 286.71 L178.80 288.83 L183.20 288.83 L183.20 291.81 L187.60 291.81 L187.60 292.65 L192.00 292.65 L192.00 293.16 L196.40 293.16 L196.40 293.68 L200.80 293.68 L200.80 293.72 L205.20 293.72 L205.20 293.56 L209.60 293.56 L209.60 293.39 L214.00 293.39 L214.00 293.05 L218.40 293.05 L218.40 292.63 L222.80 292.63 L222.80 292.21 L227.20 292.21 L227.20 289.66 L231.60 289.66 L231.60 287.35 L236.00 287.35 L236.00 285.40 L240.40 285.40 L240.40 283.45 L244.80 283.45 L244.80 281.42 L249.20 281.42 L249.20 279.37 L253.60 279.37 L253.60 277.73 L258.00 277.73 L258.00 276.44 L262.40 276.44 L262.40 275.15 L266.80 275.15 L266.80 273.00 L271.20 273.00 L271.20 270.86 L275.60 270.86 L275.60 268.91 L280.00 268.91 L280.00 267.03 L284.40 267.03 L284.40 264.99 L288.80 264.99 L288.80 262.78 L293.20 262.78 L293.20 260.41 L297.60 260.41 L297.60 257.45 L302.00 257.45 L302.00 254.48 L306.40 254.48 L306.40 253.67 L310.80 253.67 L310.80 255.06 L315.20 255.06 L315.20 259.73 L319.60 259.73 L319.60 265.48 L324.00 265.48 L324.00 270.50 L328.40 270.50 L328.40 274.79 L332.80 274.79 L332.80 279.12 L337.20 279.12 L337.20 283.66 L341.60 283.66 L341.60 288.52 L346.00 288.52 L346.00 291.40 L350.40 291.40 L350.40 291.40 L354.80 291.40 L354.80 291.40 L359.20 291.40 L359.20 300.22 L363.60 300.22 L363.60 308.09 L368.00 308.09 L368.00 312.60 L372.40 312.60 L372.40 317.04 L376.80 317.04 L376.80 317.24 L381.20 317.24 L381.20 317.24 L385.60 317.24 L385.60 317.24 L390.00 317.24 L390.00 314.96 L394.40 314.96 L394.40 305.95 L398.80 305.95 L398.80 283.72 L403.20 283.72 L403.20 261.06 L407.60 261.06 L407.60 242.67 L412.00 242.67 L412.00 229.86 L416.40 229.86 L416.40 221.79 L420.80 221.79 L420.80 214.12 L425.20 214.12 L425.20 211.30 L429.60 211.30 L429.60 219.37 L434.00 219.37 L434.00 226.15 L438.40 226.15 L438.40 235.78 L442.80 235.78 L442.80 244.52 L447.20 244.52 L447.20 252.24 L451.60 252.24 L451.60 260.96 L456.00 260.96 L456.00 268.83 L460.40 268.83 L460.40 275.80 L464.80 275.80 L464.80 281.73 L469.20 281.73 L469.20 286.76 L473.60 286.76 L473.60 293.36 L478.00 293.36 L478.00 293.84 L482.40 293.84 L482.40 293.84 L486.80 293.84 L486.80 293.84 L491.20 293.84 L491.20 293.84 L495.60 293.84 L495.60 293.84 L500.00 293.84 L500.00 292.05 L504.40 292.05 L504.40 289.08 L508.80 289.08 L508.80 287.18 L513.20 287.18 L513.20 285.27 L517.60 285.27 L517.60 283.36 L522.00 283.36 L522.00 281.46 L526.40 281.46 L526.40 279.55 L530.80 279.55 L530.80 277.64 L535.20 277.64 L535.20 276.27 L539.60 276.27 L539.60 275.34 L544.00 275.34 L544.00 274.64 L548.40 274.64 L548.40 274.54 L552.80 274.54 L552.80 274.45 L557.20 274.45 L557.20 274.35 L561.60 274.35 L561.60 274.03 L566.00 274.03 L566.00 273.69 L570.00 273.69 L570.0 291.4 Z" fill="#64aaf5"/>
<rect x="38" y="287.8" width="532" height="3.6" fill="#a4a4ac"/>
<path d="M38.0 291.4 L38.00 316.91 L38.73 316.91 L38.73 316.91 L39.47 316.91 L39.47 316.91 L40.20 316.91 L40.20 315.24 L40.93 315.24 L40.93 310.06 L41.66 310.06 L41.66 310.43 L42.40 310.43 L42.40 308.04 L43.13 308.04 L43.13 311.97 L43.86 311.97 L43.86 313.70 L44.60 313.70 L44.60 314.15 L45.33 314.15 L45.33 311.38 L46.06 311.38 L46.06 307.77 L46.80 307.77 L46.80 309.13 L47.53 309.13 L47.53 307.88 L48.26 307.88 L48.26 304.13 L48.99 304.13 L48.99 306.58 L49.73 306.58 L49.73 303.11 L50.46 303.11 L50.46 305.69 L51.19 305.69 L51.19 305.28 L51.93 305.28 L51.93 308.78 L52.66 308.78 L52.66 312.52 L53.39 312.52 L53.39 310.45 L54.13 310.45 L54.13 308.86 L54.86 308.86 L54.86 306.81 L55.59 306.81 L55.59 309.44 L56.32 309.44 L56.32 306.35 L57.06 306.35 L57.06 307.11 L57.79 307.11 L57.79 305.86 L58.52 305.86 L58.52 307.04 L59.26 307.04 L59.26 304.94 L59.99 304.94 L59.99 302.76 L60.72 302.76 L60.72 304.57 L61.46 304.57 L61.46 304.56 L62.19 304.56 L62.19 299.39 L62.92 299.39 L62.92 297.09 L63.65 297.09 L63.65 293.80 L64.39 293.80 L64.39 271.09 L65.12 271.09 L65.12 271.09 L65.85 271.09 L65.85 278.34 L66.59 278.34 L66.59 278.60 L67.32 278.60 L67.32 270.01 L68.05 270.01 L68.05 262.31 L68.79 262.31 L68.79 257.27 L69.52 257.27 L69.52 265.30 L70.25 265.30 L70.25 266.76 L70.98 266.76 L70.98 273.18 L71.72 273.18 L71.72 274.98 L72.45 274.98 L72.45 274.53 L73.18 274.53 L73.18 273.33 L73.92 273.33 L73.92 273.72 L74.65 273.72 L74.65 273.52 L75.38 273.52 L75.38 273.52 L76.12 273.52 L76.12 276.45 L76.85 276.45 L76.85 275.92 L77.58 275.92 L77.58 277.26 L78.31 277.26 L78.31 277.41 L79.05 277.41 L79.05 276.77 L79.78 276.77 L79.78 278.51 L80.51 278.51 L80.51 281.54 L81.25 281.54 L81.25 279.70 L81.98 279.70 L81.98 282.03 L82.71 282.03 L82.71 280.55 L83.45 280.55 L83.45 281.30 L84.18 281.30 L84.18 282.49 L84.91 282.49 L84.91 281.84 L85.65 281.84 L85.65 283.87 L86.38 283.87 L86.38 279.83 L87.11 279.83 L87.11 283.33 L87.84 283.33 L87.84 281.56 L88.58 281.56 L88.58 280.70 L89.31 280.70 L89.31 280.82 L90.04 280.82 L90.04 277.89 L90.78 277.89 L90.78 278.56 L91.51 278.56 L91.51 276.67 L92.24 276.67 L92.24 273.71 L92.98 273.71 L92.98 270.06 L93.71 270.06 L93.71 262.46 L94.44 262.46 L94.44 256.14 L95.17 256.14 L95.17 256.14 L95.91 256.14 L95.91 262.90 L96.64 262.90 L96.64 265.94 L97.37 265.94 L97.37 266.52 L98.11 266.52 L98.11 269.16 L98.84 269.16 L98.84 265.45 L99.57 265.45 L99.57 264.67 L100.31 264.67 L100.31 268.23 L101.04 268.23 L101.04 264.75 L101.77 264.75 L101.77 268.36 L102.50 268.36 L102.50 267.12 L103.24 267.12 L103.24 269.06 L103.97 269.06 L103.97 270.87 L104.70 270.87 L104.70 272.06 L105.44 272.06 L105.44 276.50 L106.17 276.50 L106.17 275.42 L106.90 275.42 L106.90 280.07 L107.64 280.07 L107.64 277.96 L108.37 277.96 L108.37 272.52 L109.10 272.52 L109.10 270.56 L109.83 270.56 L109.83 271.09 L110.57 271.09 L110.57 262.31 L111.30 262.31 L111.30 261.67 L112.03 261.67 L112.03 259.26 L112.77 259.26 L112.77 257.60 L113.50 257.60 L113.50 253.54 L114.23 253.54 L114.23 257.55 L114.97 257.55 L114.97 262.04 L115.70 262.04 L115.70 257.87 L116.43 257.87 L116.43 260.63 L117.16 260.63 L117.16 259.41 L117.90 259.41 L117.90 259.88 L118.63 259.88 L118.63 266.47 L119.36 266.47 L119.36 267.20 L120.10 267.20 L120.10 266.72 L120.83 266.72 L120.83 269.13 L121.56 269.13 L121.56 269.60 L122.30 269.60 L122.30 269.98 L123.03 269.98 L123.03 269.64 L123.76 269.64 L123.76 268.92 L124.49 268.92 L124.49 266.05 L125.23 266.05 L125.23 266.05 L125.96 266.05 L125.96 267.56 L126.69 267.56 L126.69 271.56 L127.43 271.56 L127.43 275.16 L128.16 275.16 L128.16 271.87 L128.89 271.87 L128.89 272.22 L129.63 272.22 L129.63 275.43 L130.36 275.43 L130.36 273.31 L131.09 273.31 L131.09 278.21 L131.82 278.21 L131.82 279.29 L132.56 279.29 L132.56 277.47 L133.29 277.47 L133.29 276.08 L134.02 276.08 L134.02 274.54 L134.76 274.54 L134.76 271.83 L135.49 271.83 L135.49 268.49 L136.22 268.49 L136.22 268.49 L136.96 268.49 L136.96 270.06 L137.69 270.06 L137.69 272.87 L138.42 272.87 L138.42 278.29 L139.15 278.29 L139.15 279.05 L139.89 279.05 L139.89 280.24 L140.62 280.24 L140.62 274.97 L141.35 274.97 L141.35 273.95 L142.09 273.95 L142.09 273.65 L142.82 273.65 L142.82 271.09 L143.55 271.09 L143.55 271.09 L144.29 271.09 L144.29 273.63 L145.02 273.63 L145.02 277.00 L145.75 277.00 L145.75 279.54 L146.48 279.54 L146.48 282.83 L147.22 282.83 L147.22 283.20 L147.95 283.20 L147.95 282.14 L148.68 282.14 L148.68 282.99 L149.42 282.99 L149.42 279.62 L150.15 279.62 L150.15 281.60 L150.88 281.60 L150.88 279.10 L151.62 279.10 L151.62 278.56 L152.35 278.56 L152.35 278.56 L153.08 278.56 L153.08 278.13 L153.81 278.13 L153.81 278.54 L154.55 278.54 L154.55 279.81 L155.28 279.81 L155.28 280.48 L156.01 280.48 L156.01 279.70 L156.75 279.70 L156.75 278.56 L157.48 278.56 L157.48 278.56 L158.21 278.56 L158.21 278.21 L158.95 278.21 L158.95 277.54 L159.68 277.54 L159.68 280.25 L160.41 280.25 L160.41 280.90 L161.14 280.90 L161.14 280.05 L161.88 280.05 L161.88 278.22 L162.61 278.22 L162.61 279.35 L163.34 279.35 L163.34 280.61 L164.08 280.61 L164.08 279.74 L164.81 279.74 L164.81 278.20 L165.54 278.20 L165.54 278.25 L166.28 278.25 L166.28 277.26 L167.01 277.26 L167.01 277.26 L167.74 277.26 L167.74 277.09 L168.47 277.09 L168.47 279.76 L169.21 279.76 L169.21 277.26 L169.94 277.26 L169.94 277.26 L170.67 277.26 L170.67 281.68 L171.41 281.68 L171.41 282.60 L172.14 282.60 L172.14 283.38 L172.87 283.38 L172.87 283.27 L173.61 283.27 L173.61 285.49 L174.34 285.49 L174.34 285.79 L175.07 285.79 L175.07 285.38 L175.80 285.38 L175.80 286.80 L176.54 286.80 L176.54 286.98 L177.27 286.98 L177.27 282.99 L178.00 282.99 L178.00 281.65 L178.74 281.65 L178.74 281.65 L179.47 281.65 L179.47 288.12 L180.20 288.12 L180.20 288.47 L180.94 288.47 L180.94 293.05 L181.67 293.05 L181.67 297.25 L182.40 297.25 L182.40 296.56 L183.13 296.56 L183.13 298.88 L183.87 298.88 L183.87 298.88 L184.60 298.88 L184.60 293.88 L185.33 293.88 L185.33 289.62 L186.07 289.62 L186.07 283.27 L186.80 283.27 L186.80 283.27 L187.53 283.27 L187.53 290.07 L188.27 290.07 L188.27 292.05 L189.00 292.05 L189.00 290.42 L189.73 290.42 L189.73 288.65 L190.46 288.65 L190.46 287.71 L191.20 287.71 L191.20 286.80 L191.93 286.80 L191.93 285.06 L192.66 285.06 L192.66 285.06 L193.40 285.06 L193.40 295.46 L194.13 295.46 L194.13 295.38 L194.86 295.38 L194.86 298.05 L195.60 298.05 L195.60 298.62 L196.33 298.62 L196.33 303.48 L197.06 303.48 L197.06 305.86 L197.79 305.86 L197.79 305.65 L198.53 305.65 L198.53 309.27 L199.26 309.27 L199.26 309.27 L199.99 309.27 L199.99 306.94 L200.73 306.94 L200.73 301.25 L201.46 301.25 L201.46 299.79 L202.19 299.79 L202.19 301.74 L202.93 301.74 L202.93 298.88 L203.66 298.88 L203.66 296.31 L204.39 296.31 L204.39 300.29 L205.12 300.29 L205.12 295.50 L205.86 295.50 L205.86 297.00 L206.59 297.00 L206.59 297.25 L207.32 297.25 L207.32 295.76 L208.06 295.76 L208.06 294.91 L208.79 294.91 L208.79 294.28 L209.52 294.28 L209.52 293.87 L210.26 293.87 L210.26 292.70 L210.99 292.70 L210.99 292.04 L211.72 292.04 L211.72 291.73 L212.45 291.73 L212.45 291.07 L213.19 291.07 L213.19 290.86 L213.92 290.86 L213.92 290.39 L214.65 290.39 L214.65 289.45 L215.39 289.45 L215.39 288.13 L216.12 288.13 L216.12 283.27 L216.85 283.27 L216.85 280.60 L217.59 280.60 L217.59 280.63 L218.32 280.63 L218.32 278.37 L219.05 278.37 L219.05 272.80 L219.78 272.80 L219.78 268.65 L220.52 268.65 L220.52 268.65 L221.25 268.65 L221.25 275.71 L221.98 275.71 L221.98 272.88 L222.72 272.88 L222.72 278.49 L223.45 278.49 L223.45 278.90 L224.18 278.90 L224.18 285.87 L224.92 285.87 L224.92 282.66 L225.65 282.66 L225.65 283.26 L226.38 283.26 L226.38 284.54 L227.11 284.54 L227.11 284.79 L227.85 284.79 L227.85 282.85 L228.58 282.85 L228.58 281.76 L229.31 281.76 L229.31 279.59 L230.05 279.59 L230.05 276.61 L230.78 276.61 L230.78 271.25 L231.51 271.25 L231.51 269.04 L232.25 269.04 L232.25 268.18 L232.98 268.18 L232.98 262.74 L233.71 262.74 L233.71 257.27 L234.44 257.27 L234.44 257.65 L235.18 257.65 L235.18 253.29 L235.91 253.29 L235.91 256.46 L236.64 256.46 L236.64 256.46 L237.38 256.46 L237.38 260.07 L238.11 260.07 L238.11 261.96 L238.84 261.96 L238.84 261.25 L239.58 261.25 L239.58 260.85 L240.31 260.85 L240.31 267.51 L241.04 267.51 L241.04 271.04 L241.77 271.04 L241.77 272.88 L242.51 272.88 L242.51 275.58 L243.24 275.58 L243.24 274.97 L243.97 274.97 L243.97 274.44 L244.71 274.44 L244.71 273.32 L245.44 273.32 L245.44 271.25 L246.17 271.25 L246.17 271.25 L246.91 271.25 L246.91 274.93 L247.64 274.93 L247.64 276.86 L248.37 276.86 L248.37 278.20 L249.10 278.20 L249.10 274.64 L249.84 274.64 L249.84 271.25 L250.57 271.25 L250.57 271.25 L251.30 271.25 L251.30 276.50 L252.04 276.50 L252.04 277.94 L252.77 277.94 L252.77 280.44 L253.50 280.44 L253.50 282.97 L254.24 282.97 L254.24 282.79 L254.97 282.79 L254.97 281.99 L255.70 281.99 L255.70 284.17 L256.43 284.17 L256.43 286.53 L257.17 286.53 L257.17 284.52 L257.90 284.52 L257.90 283.48 L258.63 283.48 L258.63 282.21 L259.37 282.21 L259.37 281.65 L260.10 281.65 L260.10 282.95 L260.83 282.95 L260.83 279.76 L261.57 279.76 L261.57 278.49 L262.30 278.49 L262.30 274.86 L263.03 274.86 L263.03 271.79 L263.76 271.79 L263.76 269.46 L264.50 269.46 L264.50 269.46 L265.23 269.46 L265.23 275.04 L265.96 275.04 L265.96 277.33 L266.70 277.33 L266.70 281.29 L267.43 281.29 L267.43 281.60 L268.16 281.60 L268.16 278.76 L268.90 278.76 L268.90 277.79 L269.63 277.79 L269.63 278.07 L270.36 278.07 L270.36 281.99 L271.09 281.99 L271.09 277.84 L271.83 277.84 L271.83 276.59 L272.56 276.59 L272.56 275.24 L273.29 275.24 L273.29 272.06 L274.03 272.06 L274.03 272.06 L274.76 272.06 L274.76 279.53 L275.49 279.53 L275.49 280.74 L276.23 280.74 L276.23 284.75 L276.96 284.75 L276.96 285.27 L277.69 285.27 L277.69 287.64 L278.42 287.64 L278.42 290.11 L279.16 290.11 L279.16 293.84 L279.89 293.84 L279.89 294.41 L280.62 294.41 L280.62 294.43 L281.36 294.43 L281.36 294.44 L282.09 294.44 L282.09 295.81 L282.82 295.81 L282.82 295.80 L283.56 295.80 L283.56 295.11 L284.29 295.11 L284.29 298.20 L285.02 298.20 L285.02 296.01 L285.75 296.01 L285.75 296.92 L286.49 296.92 L286.49 300.12 L287.22 300.12 L287.22 299.04 L287.95 299.04 L287.95 299.04 L288.69 299.04 L288.69 297.91 L289.42 297.91 L289.42 297.82 L290.15 297.82 L290.15 297.18 L290.89 297.18 L290.89 297.50 L291.62 297.50 L291.62 298.15 L292.35 298.15 L292.35 301.37 L293.08 301.37 L293.08 297.43 L293.82 297.43 L293.82 299.50 L294.55 299.50 L294.55 297.28 L295.28 297.28 L295.28 297.72 L296.02 297.72 L296.02 300.16 L296.75 300.16 L296.75 302.45 L297.48 302.45 L297.48 304.57 L298.22 304.57 L298.22 305.28 L298.95 305.28 L298.95 306.86 L299.68 306.86 L299.68 307.24 L300.41 307.24 L300.41 311.22 L301.15 311.22 L301.15 313.26 L301.88 313.26 L301.88 314.82 L302.61 314.82 L302.61 316.36 L303.35 316.36 L303.35 321.62 L304.08 321.62 L304.08 322.99 L304.81 322.99 L304.81 320.53 L305.55 320.53 L305.55 323.17 L306.28 323.17 L306.28 324.93 L307.01 324.93 L307.01 330.24 L307.74 330.24 L307.74 331.88 L308.48 331.88 L308.48 334.62 L309.21 334.62 L309.21 334.62 L309.94 334.62 L309.94 331.08 L310.68 331.08 L310.68 328.68 L311.41 328.68 L311.41 324.13 L312.14 324.13 L312.14 325.04 L312.88 325.04 L312.88 321.67 L313.61 321.67 L313.61 317.76 L314.34 317.76 L314.34 318.05 L315.07 318.05 L315.07 313.15 L315.81 313.15 L315.81 314.14 L316.54 314.14 L316.54 309.74 L317.27 309.74 L317.27 309.44 L318.01 309.44 L318.01 306.92 L318.74 306.92 L318.74 306.48 L319.47 306.48 L319.47 302.43 L320.21 302.43 L320.21 300.80 L320.94 300.80 L320.94 303.36 L321.67 303.36 L321.67 300.10 L322.40 300.10 L322.40 302.10 L323.14 302.10 L323.14 301.22 L323.87 301.22 L323.87 305.54 L324.60 305.54 L324.60 307.76 L325.34 307.76 L325.34 311.22 L326.07 311.22 L326.07 311.22 L326.80 311.22 L326.80 305.18 L327.54 305.18 L327.54 303.81 L328.27 303.81 L328.27 300.82 L329.00 300.82 L329.00 299.49 L329.73 299.49 L329.73 298.45 L330.47 298.45 L330.47 297.28 L331.20 297.28 L331.20 298.41 L331.93 298.41 L331.93 299.47 L332.67 299.47 L332.67 298.50 L333.40 298.50 L333.40 302.59 L334.13 302.59 L334.13 304.24 L334.87 304.24 L334.87 304.24 L335.60 304.24 L335.60 295.54 L336.33 295.54 L336.33 294.76 L337.06 294.76 L337.06 292.05 L337.80 292.05 L337.80 290.45 L338.53 290.45 L338.53 290.32 L339.26 290.32 L339.26 289.45 L340.00 289.45 L340.00 286.60 L340.73 286.60 L340.73 276.94 L341.46 276.94 L341.46 268.71 L342.20 268.71 L342.20 265.15 L342.93 265.15 L342.93 254.67 L343.66 254.67 L343.66 255.19 L344.39 255.19 L344.39 250.11 L345.13 250.11 L345.13 249.76 L345.86 249.76 L345.86 242.16 L346.59 242.16 L346.59 244.38 L347.33 244.38 L347.33 247.32 L348.06 247.32 L348.06 253.76 L348.79 253.76 L348.79 255.34 L349.53 255.34 L349.53 258.95 L350.26 258.95 L350.26 263.31 L350.99 263.31 L350.99 267.30 L351.72 267.30 L351.72 270.55 L352.46 270.55 L352.46 272.06 L353.19 272.06 L353.19 279.09 L353.92 279.09 L353.92 284.36 L354.66 284.36 L354.66 296.27 L355.39 296.27 L355.39 322.27 L356.12 322.27 L356.12 322.27 L356.86 322.27 L356.86 322.27 L357.59 322.27 L357.59 322.27 L358.32 322.27 L358.32 294.65 L359.05 294.65 L359.05 292.94 L359.79 292.94 L359.79 291.53 L360.52 291.53 L360.52 289.45 L361.25 289.45 L361.25 282.76 L361.99 282.76 L361.99 274.61 L362.72 274.61 L362.72 254.67 L363.45 254.67 L363.45 254.67 L364.19 254.67 L364.19 259.15 L364.92 259.15 L364.92 263.42 L365.65 263.42 L365.65 263.16 L366.38 263.16 L366.38 256.51 L367.12 256.51 L367.12 253.86 L367.85 253.86 L367.85 247.20 L368.58 247.20 L368.58 245.51 L369.32 245.51 L369.32 242.44 L370.05 242.44 L370.05 236.30 L370.78 236.30 L370.78 228.51 L371.52 228.51 L371.52 228.51 L372.25 228.51 L372.25 232.56 L372.98 232.56 L372.98 237.76 L373.71 237.76 L373.71 239.81 L374.45 239.81 L374.45 238.87 L375.18 238.87 L375.18 236.48 L375.91 236.48 L375.91 234.89 L376.65 234.89 L376.65 233.00 L377.38 233.00 L377.38 241.59 L378.11 241.59 L378.11 229.81 L378.85 229.81 L378.85 233.38 L379.58 233.38 L379.58 239.37 L380.31 239.37 L380.31 231.98 L381.04 231.98 L381.04 232.18 L381.78 232.18 L381.78 235.37 L382.51 235.37 L382.51 233.55 L383.24 233.55 L383.24 237.41 L383.98 237.41 L383.98 236.45 L384.71 236.45 L384.71 234.28 L385.44 234.28 L385.44 235.96 L386.18 235.96 L386.18 234.31 L386.91 234.31 L386.91 241.99 L387.64 241.99 L387.64 232.74 L388.37 232.74 L388.37 232.69 L389.11 232.69 L389.11 227.38 L389.84 227.38 L389.84 218.27 L390.57 218.27 L390.57 202.02 L391.31 202.02 L391.31 185.77 L392.04 185.77 L392.04 161.40 L392.77 161.40 L392.77 141.90 L393.51 141.90 L393.51 141.90 L394.24 141.90 L394.24 145.15 L394.97 145.15 L394.97 169.60 L395.70 169.60 L395.70 164.65 L396.44 164.65 L396.44 180.90 L397.17 180.90 L397.17 193.90 L397.90 193.90 L397.90 210.59 L398.64 210.59 L398.64 210.15 L399.37 210.15 L399.37 227.38 L400.10 227.38 L400.10 238.85 L400.84 238.85 L400.84 243.30 L401.57 243.30 L401.57 246.89 L402.30 246.89 L402.30 252.24 L403.03 252.24 L403.03 258.89 L403.77 258.89 L403.77 261.38 L404.50 261.38 L404.50 262.15 L405.23 262.15 L405.23 266.18 L405.97 266.18 L405.97 267.89 L406.70 267.89 L406.70 271.42 L407.43 271.42 L407.43 272.06 L408.17 272.06 L408.17 272.06 L408.90 272.06 L408.90 276.18 L409.63 276.18 L409.63 280.14 L410.36 280.14 L410.36 283.54 L411.10 283.54 L411.10 286.34 L411.83 286.34 L411.83 301.15 L412.56 301.15 L412.56 304.71 L413.30 304.71 L413.30 303.59 L414.03 303.59 L414.03 304.22 L414.76 304.22 L414.76 302.36 L415.50 302.36 L415.50 303.59 L416.23 303.59 L416.23 304.48 L416.96 304.48 L416.96 306.03 L417.69 306.03 L417.69 310.90 L418.43 310.90 L418.43 308.11 L419.16 308.11 L419.16 309.51 L419.89 309.51 L419.89 311.58 L420.63 311.58 L420.63 311.71 L421.36 311.71 L421.36 315.77 L422.09 315.77 L422.09 316.64 L422.83 316.64 L422.83 316.20 L423.56 316.20 L423.56 319.22 L424.29 319.22 L424.29 320.43 L425.02 320.43 L425.02 323.92 L425.76 323.92 L425.76 328.61 L426.49 328.61 L426.49 327.33 L427.22 327.33 L427.22 326.19 L427.96 326.19 L427.96 329.10 L428.69 329.10 L428.69 329.10 L429.42 329.10 L429.42 323.73 L430.16 323.73 L430.16 321.47 L430.89 321.47 L430.89 324.76 L431.62 324.76 L431.62 326.44 L432.35 326.44 L432.35 329.10 L433.09 329.10 L433.09 330.80 L433.82 330.80 L433.82 331.38 L434.55 331.38 L434.55 332.28 L435.29 332.28 L435.29 338.85 L436.02 338.85 L436.02 337.30 L436.75 337.30 L436.75 339.02 L437.49 339.02 L437.49 337.03 L438.22 337.03 L438.22 340.64 L438.95 340.64 L438.95 340.02 L439.68 340.02 L439.68 339.65 L440.42 339.65 L440.42 341.52 L441.15 341.52 L441.15 347.73 L441.88 347.73 L441.88 348.30 L442.62 348.30 L442.62 348.11 L443.35 348.11 L443.35 348.11 L444.08 348.11 L444.08 342.59 L444.82 342.59 L444.82 337.11 L445.55 337.11 L445.55 342.42 L446.28 342.42 L446.28 337.89 L447.01 337.89 L447.01 340.64 L447.75 340.64 L447.75 338.23 L448.48 338.23 L448.48 334.89 L449.21 334.89 L449.21 335.11 L449.95 335.11 L449.95 333.73 L450.68 333.73 L450.68 334.67 L451.41 334.67 L451.41 333.16 L452.15 333.16 L452.15 336.66 L452.88 336.66 L452.88 340.64 L453.61 340.64 L453.61 336.60 L454.34 336.60 L454.34 343.06 L455.08 343.06 L455.08 342.42 L455.81 342.42 L455.81 336.18 L456.54 336.18 L456.54 333.84 L457.28 333.84 L457.28 330.87 L458.01 330.87 L458.01 331.38 L458.74 331.38 L458.74 329.33 L459.48 329.33 L459.48 329.82 L460.21 329.82 L460.21 329.11 L460.94 329.11 L460.94 329.42 L461.67 329.42 L461.67 322.42 L462.41 322.42 L462.41 322.03 L463.14 322.03 L463.14 322.11 L463.87 322.11 L463.87 317.95 L464.61 317.95 L464.61 318.00 L465.34 318.00 L465.34 309.85 L466.07 309.85 L466.07 317.28 L466.81 317.28 L466.81 316.10 L467.54 316.10 L467.54 316.10 L468.27 316.10 L468.27 311.21 L469.00 311.21 L469.00 306.91 L469.74 306.91 L469.74 305.76 L470.47 305.76 L470.47 303.80 L471.20 303.80 L471.20 301.94 L471.94 301.94 L471.94 303.59 L472.67 303.59 L472.67 298.47 L473.40 298.47 L473.40 293.18 L474.14 293.18 L474.14 289.24 L474.87 289.24 L474.87 281.17 L475.60 281.17 L475.60 275.15 L476.33 275.15 L476.33 272.92 L477.07 272.92 L477.07 269.44 L477.80 269.44 L477.80 269.92 L478.53 269.92 L478.53 262.64 L479.27 262.64 L479.27 262.64 L480.00 262.64 L480.00 264.92 L480.73 264.92 L480.73 268.03 L481.47 268.03 L481.47 267.02 L482.20 267.02 L482.20 267.16 L482.93 267.16 L482.93 268.17 L483.66 268.17 L483.66 268.65 L484.40 268.65 L484.40 268.80 L485.13 268.80 L485.13 271.74 L485.86 271.74 L485.86 276.22 L486.60 276.22 L486.60 277.07 L487.33 277.07 L487.33 270.36 L488.06 270.36 L488.06 256.46 L488.80 256.46 L488.80 256.46 L489.53 256.46 L489.53 259.70 L490.26 259.70 L490.26 257.48 L490.99 257.48 L490.99 256.46 L491.73 256.46 L491.73 267.15 L492.46 267.15 L492.46 268.65 L493.19 268.65 L493.19 271.47 L493.93 271.47 L493.93 271.93 L494.66 271.93 L494.66 275.61 L495.39 275.61 L495.39 273.34 L496.13 273.34 L496.13 271.36 L496.86 271.36 L496.86 264.10 L497.59 264.10 L497.59 261.89 L498.32 261.89 L498.32 258.59 L499.06 258.59 L499.06 251.91 L499.79 251.91 L499.79 251.91 L500.52 251.91 L500.52 255.64 L501.26 255.64 L501.26 258.21 L501.99 258.21 L501.99 262.22 L502.72 262.22 L502.72 260.50 L503.46 260.50 L503.46 257.92 L504.19 257.92 L504.19 259.46 L504.92 259.46 L504.92 252.72 L505.65 252.72 L505.65 255.34 L506.39 255.34 L506.39 247.10 L507.12 247.10 L507.12 242.00 L507.85 242.00 L507.85 247.14 L508.59 247.14 L508.59 253.06 L509.32 253.06 L509.32 251.91 L510.05 251.91 L510.05 257.42 L510.79 257.42 L510.79 258.17 L511.52 258.17 L511.52 261.45 L512.25 261.45 L512.25 260.93 L512.98 260.93 L512.98 260.59 L513.72 260.59 L513.72 260.36 L514.45 260.36 L514.45 267.36 L515.18 267.36 L515.18 266.25 L515.92 266.25 L515.92 263.62 L516.65 263.62 L516.65 263.39 L517.38 263.39 L517.38 262.91 L518.12 262.91 L518.12 262.64 L518.85 262.64 L518.85 262.64 L519.58 262.64 L519.58 266.79 L520.31 266.79 L520.31 266.35 L521.05 266.35 L521.05 274.65 L521.78 274.65 L521.78 269.83 L522.51 269.83 L522.51 267.29 L523.25 267.29 L523.25 265.57 L523.98 265.57 L523.98 262.64 L524.71 262.64 L524.71 265.39 L525.45 265.39 L525.45 261.20 L526.18 261.20 L526.18 256.46 L526.91 256.46 L526.91 256.34 L527.64 256.34 L527.64 259.30 L528.38 259.30 L528.38 252.72 L529.11 252.72 L529.11 254.98 L529.84 254.98 L529.84 251.17 L530.58 251.17 L530.58 239.72 L531.31 239.72 L531.31 239.72 L532.04 239.72 L532.04 249.04 L532.78 249.04 L532.78 248.72 L533.51 248.72 L533.51 253.37 L534.24 253.37 L534.24 258.71 L534.97 258.71 L534.97 258.45 L535.71 258.45 L535.71 259.88 L536.44 259.88 L536.44 264.09 L537.17 264.09 L537.17 261.12 L537.91 261.12 L537.91 265.45 L538.64 265.45 L538.64 264.10 L539.37 264.10 L539.37 267.57 L540.11 267.57 L540.11 266.41 L540.84 266.41 L540.84 269.60 L541.57 269.60 L541.57 270.27 L542.30 270.27 L542.30 272.22 L543.04 272.22 L543.04 275.61 L543.77 275.61 L543.77 274.34 L544.50 274.34 L544.50 278.40 L545.24 278.40 L545.24 282.95 L545.97 282.95 L545.97 287.32 L546.70 287.32 L546.70 294.65 L547.43 294.65 L547.43 301.15 L548.17 301.15 L548.17 307.65 L548.90 307.65 L548.90 307.65 L549.63 307.65 L549.63 303.64 L550.37 303.64 L550.37 302.77 L551.10 302.77 L551.10 296.27 L551.83 296.27 L551.83 284.90 L552.57 284.90 L552.57 287.41 L553.30 287.41 L553.30 281.65 L554.03 281.65 L554.03 283.30 L554.76 283.30 L554.76 280.67 L555.50 280.67 L555.50 280.67 L556.23 280.67 L556.23 282.31 L556.96 282.31 L556.96 274.34 L557.70 274.34 L557.70 274.34 L558.43 274.34 L558.43 276.15 L559.16 276.15 L559.16 273.85 L559.90 273.85 L559.90 273.85 L560.63 273.85 L560.63 274.82 L561.36 274.82 L561.36 283.64 L562.09 283.64 L562.09 280.67 L562.83 280.67 L562.83 276.94 L563.56 276.94 L563.56 276.94 L564.29 276.94 L564.29 278.40 L565.03 278.40 L565.03 283.50 L565.76 283.50 L565.76 281.97 L566.49 281.97 L566.49 281.97 L567.23 281.97 L567.23 286.18 L567.96 286.18 L567.96 284.57 L568.69 284.57 L568.69 284.57 L569.42 284.57 L569.42 286.52 L570.00 286.52 L570.0 291.4 Z" fill="#f03cfa" fill-opacity="0.94"/>
<rect x="38" y="287.8" width="532" height="3.6" fill="#b81cc0" clip-path="url(#magclip)"/>
<line x1="570" y1="291.4" x2="612" y2="291.4" stroke="#c0c0c0" stroke-width="0.8" stroke-dasharray="3,3"/>
<path d="M39.2 260.1 L39.2 260.1 L39.4 256.3 L39.4 256.3 L39.6 255.9 L39.6 255.9 L39.8 256.5 L40.0 258.0 L40.2 257.9 L40.4 255.9 L40.7 256.9 L40.9 257.4 L41.1 258.6 L41.1 258.6 L41.3 257.6 L41.5 256.9 L41.7 259.3 L41.9 255.5 L42.1 254.8 L42.3 254.5 L42.5 254.4 L42.5 254.4 L42.7 255.3 L43.0 255.5 L43.2 254.6 L43.4 252.6 L43.6 252.3 L43.8 250.9 L44.0 252.1 L44.2 250.6 L44.4 249.7 L44.6 250.9 L44.8 247.1 L45.1 247.8 L45.3 247.8 L45.5 248.3 L45.5 248.3 L45.7 248.5 L45.9 248.3 L46.1 247.7 L46.3 246.0 L46.5 245.9 L46.7 246.7 L46.9 247.5 L47.1 246.8 L47.4 243.6 L47.6 245.6 L47.8 244.3 L48.0 243.5 L48.2 244.6 L48.4 243.4 L48.4 243.4 L48.6 242.2 L48.8 244.8 L49.0 243.6 L49.2 242.5 L49.4 243.1 L49.7 240.9 L49.9 240.8 L50.1 242.9 L50.3 239.8 L50.5 239.5 L50.6 239.6 L50.7 239.1 L50.9 237.5 L51.1 237.6 L51.3 238.3 L51.5 240.6 L51.8 238.1 L52.0 239.0 L52.2 238.5 L52.4 237.9 L52.4 237.9 L52.6 239.3 L52.8 240.0 L53.0 237.7 L53.2 242.5 L53.4 243.4 L53.6 241.3 L53.8 239.4 L54.1 241.0 L54.3 242.1 L54.3 242.1 L54.5 244.2 L54.7 243.1 L54.9 243.9 L55.1 244.8 L55.3 242.0 L55.5 242.0 L55.7 243.0 L55.7 243.0 L55.9 243.8 L56.2 244.4 L56.4 243.3 L56.6 245.4 L56.8 247.2 L57.0 248.9 L57.2 250.5 L57.2 250.5 L57.4 250.2 L57.6 249.6 L57.8 250.0 L58.0 254.6 L58.2 254.0 L58.5 251.7 L58.7 254.5 L58.9 253.4 L59.0 253.4 L59.1 252.4 L59.3 252.3 L59.5 247.8 L59.7 247.2 L59.9 246.9 L60.1 245.6 L60.1 245.6 L60.3 245.0 L60.5 244.9 L60.8 243.2 L61.0 245.6 L61.2 245.8 L61.4 243.4 L61.6 244.3 L61.8 245.9 L62.0 243.9 L62.2 243.9 L62.3 244.4 L62.4 244.3 L62.6 245.5 L62.9 245.0 L63.1 244.5 L63.3 244.6 L63.5 242.6 L63.7 243.9 L63.8 243.7 L63.9 243.1 L64.1 244.0 L64.3 244.4 L64.5 241.8 L64.7 240.0 L64.9 239.6 L65.2 240.0 L65.4 240.2 L65.6 240.0 L65.8 238.9 L66.0 239.6 L66.2 238.8 L66.4 238.2 L66.6 238.4 L66.7 238.3 L66.8 237.8 L67.0 237.0 L67.3 233.9 L67.5 235.7 L67.7 237.2 L67.9 237.4 L68.1 236.7 L68.3 234.7 L68.5 236.0 L68.7 235.0 L68.9 232.2 L69.1 238.2 L69.3 236.4 L69.6 234.6 L69.7 234.3 L69.8 234.2 L70.0 234.0 L70.2 234.9 L70.4 233.4 L70.6 233.6 L70.8 235.0 L71.0 230.6 L71.2 232.6 L71.4 234.6 L71.7 234.4 L71.9 234.3 L71.9 234.3 L72.1 234.9 L72.3 238.8 L72.5 237.7 L72.7 235.1 L72.9 238.1 L73.1 237.5 L73.3 236.0 L73.5 236.0 L73.7 236.4 L74.0 239.0 L74.1 238.8 L74.2 239.3 L74.4 240.1 L74.6 239.4 L74.8 238.6 L75.0 244.8 L75.2 241.0 L75.4 244.3 L75.6 242.2 L75.8 245.0 L76.0 243.8 L76.3 244.2 L76.3 244.2 L76.5 243.5 L76.7 242.7 L76.9 241.1 L77.1 241.3 L77.3 241.3 L77.5 238.3 L77.7 237.8 L77.9 239.4 L78.1 236.4 L78.4 238.6 L78.5 238.3 L78.6 238.1 L78.8 238.5 L79.0 238.4 L79.2 237.6 L79.4 238.2 L79.6 237.8 L79.8 241.3 L80.0 242.4 L80.2 239.4 L80.4 240.2 L80.7 239.8 L80.7 239.8 L80.9 239.3 L81.1 235.7 L81.3 234.3 L81.4 233.8 L81.5 233.1 L81.7 233.7 L81.9 233.2 L82.1 234.6 L82.3 231.7 L82.5 229.3 L82.8 232.4 L83.0 229.2 L83.2 228.9 L83.4 230.5 L83.6 233.7 L83.8 228.9 L84.0 229.8 L84.2 229.9 L84.3 229.5 L84.4 229.5 L84.6 229.0 L84.8 226.8 L85.1 230.3 L85.3 227.9 L85.5 226.6 L85.7 226.2 L85.9 228.7 L86.1 230.2 L86.3 228.8 L86.5 229.4 L86.5 229.4 L86.7 228.8 L86.9 226.7 L87.2 227.9 L87.4 231.5 L87.6 229.2 L87.8 230.6 L88.0 226.5 L88.2 225.8 L88.4 226.5 L88.6 225.7 L88.7 225.4 L88.8 225.2 L89.0 225.2 L89.2 223.3 L89.5 225.0 L89.7 223.8 L89.9 222.8 L90.1 222.3 L90.3 225.9 L90.5 224.8 L90.7 227.0 L90.9 226.0 L90.9 226.0 L91.1 227.6 L91.3 225.5 L91.5 227.8 L91.8 226.5 L92.0 226.3 L92.2 226.0 L92.4 225.9 L92.4 225.9 L92.6 225.1 L92.8 222.2 L93.0 222.9 L93.2 222.0 L93.4 220.5 L93.6 221.5 L93.9 223.0 L94.1 221.9 L94.3 218.4 L94.5 221.3 L94.7 220.0 L94.9 216.5 L95.1 215.3 L95.3 215.9 L95.5 215.0 L95.7 214.9 L95.7 214.9 L95.9 216.5 L96.2 219.1 L96.4 219.2 L96.6 218.2 L96.8 219.4 L96.8 219.4 L97.0 220.6 L97.2 221.8 L97.4 223.9 L97.6 222.5 L97.8 224.2 L98.0 222.5 L98.3 226.8 L98.5 224.0 L98.7 225.1 L98.9 227.2 L99.1 224.9 L99.3 225.4 L99.3 225.4 L99.5 226.0 L99.7 225.7 L99.9 223.1 L100.1 222.8 L100.3 220.0 L100.6 218.7 L100.8 217.8 L101.0 217.4 L101.2 215.1 L101.4 214.9 L101.6 215.1 L101.8 215.5 L101.9 214.5 L102.0 214.3 L102.2 212.8 L102.4 213.8 L102.6 214.5 L102.9 210.7 L103.1 214.6 L103.3 213.2 L103.4 213.2 L103.5 212.6 L103.7 214.1 L103.9 213.4 L104.1 211.6 L104.3 214.6 L104.5 214.8 L104.7 214.7 L105.0 217.9 L105.2 217.9 L105.4 217.6 L105.6 217.1 L105.8 218.8 L106.0 219.6 L106.1 219.8 L106.2 219.7 L106.4 219.3 L106.6 216.8 L106.8 216.7 L107.0 217.7 L107.3 217.4 L107.5 211.2 L107.7 211.2 L107.9 211.5 L108.1 214.9 L108.3 212.0 L108.4 211.6 L108.5 211.8 L108.7 210.8 L108.9 211.6 L109.1 213.4 L109.4 213.4 L109.6 217.8 L109.8 214.8 L110.0 215.6 L110.2 217.2 L110.4 217.5 L110.4 217.5 L110.6 215.1 L110.8 216.5 L111.0 216.0 L111.2 213.6 L111.4 212.3 L111.7 212.2 L111.9 211.8 L112.1 209.2 L112.2 209.3 L112.3 208.7 L112.5 209.7 L112.7 211.3 L112.9 206.6 L113.1 206.2 L113.3 204.6 L113.5 205.6 L113.8 208.5 L114.0 207.3 L114.2 210.8 L114.4 209.4 L114.6 207.7 L114.8 206.1 L115.0 207.5 L115.2 206.8 L115.4 205.7 L115.6 205.6 L115.8 205.7 L115.8 205.7 L116.1 205.8 L116.3 206.6 L116.5 205.6 L116.7 206.6 L116.9 208.4 L117.1 208.3 L117.3 208.1 L117.3 208.1 L117.5 207.6 L117.7 206.7 L117.9 206.2 L118.1 205.4 L118.4 205.2 L118.6 206.5 L118.8 203.8 L119.0 202.6 L119.2 202.6 L119.2 202.6 L119.4 203.0 L119.6 202.8 L119.8 205.1 L120.0 207.5 L120.2 205.4 L120.5 206.6 L120.7 204.5 L120.9 207.1 L121.1 210.6 L121.3 208.7 L121.5 205.9 L121.7 206.9 L121.7 206.9 L121.9 208.5 L122.1 209.8 L122.3 208.6 L122.5 208.9 L122.8 210.0 L123.0 210.9 L123.0 210.9 L123.2 209.3 L123.4 208.9 L123.6 207.4 L123.8 204.7 L124.0 204.5 L124.2 203.8 L124.4 206.4 L124.6 205.1 L124.9 202.8 L125.1 203.1 L125.3 201.9 L125.4 201.8 L125.5 201.6 L125.7 200.9 L125.9 202.0 L126.1 198.2 L126.3 199.3 L126.5 202.1 L126.7 202.5 L126.9 198.7 L127.2 202.4 L127.4 201.7 L127.6 201.4 L127.8 203.0 L128.0 205.5 L128.2 204.1 L128.4 203.6 L128.6 202.2 L128.8 202.5 L129.0 203.9 L129.2 203.1 L129.5 204.0 L129.7 204.8 L129.8 205.1 L129.9 204.8 L130.1 204.6 L130.3 202.9 L130.5 204.9 L130.7 204.4 L130.9 203.0 L131.1 204.6 L131.3 203.1 L131.6 204.1 L131.8 201.6 L132.0 200.3 L132.0 200.3 L132.2 199.6 L132.4 199.6 L132.6 199.9 L132.8 201.7 L133.0 196.9 L133.2 197.4 L133.4 196.4 L133.6 199.1 L133.9 198.7 L134.1 201.0 L134.3 197.4 L134.5 195.8 L134.7 199.8 L134.9 197.8 L135.1 196.0 L135.3 199.1 L135.5 200.0 L135.7 198.9 L136.0 197.7 L136.2 198.4 L136.4 196.1 L136.6 194.9 L136.8 194.2 L137.0 194.4 L137.1 194.5 L137.2 193.9 L137.4 192.7 L137.6 195.6 L137.8 195.4 L138.0 196.1 L138.3 196.3 L138.5 194.7 L138.7 194.0 L138.9 193.0 L139.1 195.9 L139.3 196.2 L139.5 194.2 L139.7 193.9 L139.9 193.8 L140.1 193.4 L140.4 193.8 L140.6 192.7 L140.7 192.8 L140.8 193.1 L141.0 194.0 L141.2 196.0 L141.4 196.3 L141.6 201.1 L141.8 199.2 L142.0 198.4 L142.1 198.6 L142.2 199.0 L142.4 198.4 L142.7 197.7 L142.9 199.6 L143.1 198.2 L143.3 197.6 L143.5 195.9 L143.7 194.9 L143.9 195.4 L144.1 196.7 L144.3 195.7 L144.5 195.0 L144.7 193.3 L145.0 193.2 L145.2 194.6 L145.4 195.8 L145.6 194.3 L145.8 194.2 L146.0 194.6 L146.2 192.7 L146.4 192.0 L146.6 191.3 L146.6 191.3 L146.8 191.6 L147.1 193.0 L147.3 189.7 L147.5 193.5 L147.7 192.8 L147.9 194.6 L148.1 194.0 L148.3 200.0 L148.5 198.8 L148.7 198.2 L148.8 198.5 L148.9 199.5 L149.1 200.6 L149.4 204.6 L149.4 204.6 L149.6 201.9 L149.8 199.6 L150.0 197.3 L150.2 196.3 L150.4 195.8 L150.6 193.6 L150.8 193.1 L151.0 190.8 L151.0 190.8 L151.2 191.1 L151.5 190.3 L151.7 186.7 L151.9 189.2 L152.1 189.4 L152.3 187.5 L152.5 188.5 L152.7 190.0 L152.9 188.6 L153.1 187.5 L153.3 186.8 L153.5 188.6 L153.8 186.7 L154.0 187.5 L154.0 187.5 L154.2 187.8 L154.4 188.3 L154.6 190.1 L154.8 188.2 L155.0 191.6 L155.2 190.8 L155.4 192.9 L155.6 193.7 L155.8 193.9 L155.8 193.9 L156.1 191.7 L156.3 190.9 L156.5 191.1 L156.7 187.9 L156.9 187.6 L157.1 186.4 L157.2 185.9 L157.3 185.6 L157.5 185.1 L157.7 187.3 L157.9 184.1 L158.2 187.2 L158.4 187.3 L158.6 190.0 L158.8 190.1 L159.0 191.1 L159.1 190.7 L159.2 190.5 L159.4 189.4 L159.6 192.4 L159.8 194.3 L160.0 195.2 L160.2 191.5 L160.5 192.3 L160.6 192.4 L160.7 192.1 L160.9 191.9 L161.1 191.4 L161.3 192.4 L161.5 190.6 L161.7 192.0 L161.9 189.9 L162.1 188.2 L162.3 187.1 L162.6 187.6 L162.8 188.4 L163.0 186.6 L163.2 186.8 L163.4 183.6 L163.6 184.1 L163.8 184.4 L163.8 184.4 L164.0 185.5 L164.2 187.2 L164.4 189.0 L164.6 188.7 L164.9 188.9 L165.0 189.4 L165.1 189.1 L165.3 188.3 L165.5 185.0 L165.7 188.5 L165.9 188.3 L166.1 183.5 L166.3 189.5 L166.5 188.9 L166.7 187.5 L167.0 186.9 L167.2 186.1 L167.4 186.8 L167.6 185.8 L167.8 185.9 L168.0 184.6 L168.2 188.3 L168.4 187.7 L168.6 185.9 L168.8 186.8 L169.0 186.1 L169.3 184.4 L169.4 184.4 L169.5 184.5 L169.7 183.8 L169.9 182.7 L170.1 183.1 L170.3 182.9 L170.5 183.7 L170.7 186.0 L170.9 184.4 L171.1 183.1 L171.3 184.2 L171.6 183.8 L171.8 182.7 L172.0 183.5 L172.1 183.2 L172.2 183.2 L172.4 181.6 L172.6 183.7 L172.8 183.8 L173.0 184.4 L173.2 182.0 L173.4 183.5 L173.7 183.1 L173.9 185.7 L174.1 185.5 L174.3 185.6 L174.5 185.8 L174.5 185.8 L174.7 185.5 L174.9 184.8 L175.1 188.8 L175.3 186.3 L175.5 187.1 L175.7 186.6 L176.0 186.8 L176.2 190.0 L176.4 189.1 L176.6 186.2 L176.8 188.8 L177.0 189.5 L177.2 189.1 L177.2 189.1 L177.4 189.3 L177.6 187.4 L177.8 183.6 L178.1 184.1 L178.3 184.0 L178.5 183.4 L178.5 183.4 L178.7 183.7 L178.9 185.0 L179.1 184.0 L179.3 183.9 L179.5 186.7 L179.7 188.0 L179.9 186.3 L180.1 186.4 L180.4 186.9 L180.4 186.9 L180.6 188.3 L180.8 189.8 L181.0 189.5 L181.2 191.0 L181.4 192.1 L181.6 193.2 L181.8 194.0 L181.8 194.0 L182.0 198.3 L182.1 201.3 L182.2 200.9 L182.4 199.4 L182.7 200.3 L182.9 198.9 L183.1 197.7 L183.3 197.4 L183.3 197.4 L183.5 197.0 L183.7 196.7 L183.9 196.0 L184.1 198.3 L184.3 196.1 L184.5 195.8 L184.8 194.9 L184.8 194.9 L185.0 196.7 L185.2 200.1 L185.4 199.3 L185.6 199.3 L185.8 200.6 L185.9 201.0 L186.0 200.1 L186.2 199.1 L186.4 198.7 L186.6 195.9 L186.8 197.5 L187.1 195.6 L187.3 192.9 L187.5 190.6 L187.7 189.8 L187.7 189.8 L187.9 189.0 L188.1 189.3 L188.3 187.8 L188.5 184.7 L188.7 187.1 L188.9 182.5 L189.2 185.6 L189.4 185.0 L189.6 184.4 L189.6 184.4 L189.8 184.9 L190.0 188.0 L190.2 191.1 L190.4 189.3 L190.6 190.5 L190.6 190.5 L190.8 189.5 L191.0 185.9 L191.2 187.5 L191.5 187.8 L191.7 186.6 L191.9 186.8 L192.1 184.4 L192.3 188.1 L192.5 187.2 L192.7 187.4 L192.8 186.0 L192.9 186.5 L193.1 187.6 L193.3 186.7 L193.6 185.0 L193.8 188.5 L194.0 190.5 L194.2 191.4 L194.3 191.7 L194.4 191.8 L194.6 192.0 L194.8 190.1 L195.0 190.1 L195.2 189.7 L195.4 189.6 L195.6 189.1 L195.6 189.1 L195.9 190.7 L196.1 193.1 L196.3 194.8 L196.5 197.4 L196.5 197.4 L196.7 199.4 L196.9 198.6 L197.1 200.0 L197.3 203.6 L197.5 203.4 L197.7 205.3 L197.7 205.3 L197.9 204.7 L198.2 200.7 L198.4 199.6 L198.6 197.8 L198.8 197.3 L199.0 196.1 L199.0 196.1 L199.2 199.0 L199.4 199.2 L199.6 201.5 L199.8 203.7 L200.0 205.4 L200.0 205.4 L200.3 204.1 L200.5 202.1 L200.7 202.0 L200.9 200.7 L201.1 202.9 L201.3 199.9 L201.5 196.4 L201.7 193.4 L201.9 194.4 L202.1 193.4 L202.3 192.1 L202.3 192.1 L202.6 191.7 L202.8 190.5 L203.0 188.1 L203.2 189.8 L203.4 188.2 L203.6 190.7 L203.8 189.7 L204.0 189.7 L204.2 189.1 L204.4 187.1 L204.7 184.2 L204.9 188.1 L205.1 188.9 L205.3 187.2 L205.5 188.9 L205.7 186.8 L205.9 185.8 L206.1 186.6 L206.3 185.3 L206.5 188.1 L206.7 185.0 L207.0 186.6 L207.2 185.3 L207.3 184.8 L207.4 185.2 L207.6 185.9 L207.8 184.5 L208.0 185.4 L208.2 186.7 L208.4 185.8 L208.6 184.0 L208.8 186.3 L209.1 186.6 L209.3 185.5 L209.5 187.0 L209.7 190.1 L209.9 185.9 L210.1 187.2 L210.3 189.4 L210.3 189.4 L210.5 189.1 L210.7 187.9 L210.9 186.1 L211.1 185.7 L211.4 186.7 L211.6 187.9 L211.8 186.1 L212.0 184.0 L212.2 185.2 L212.4 184.2 L212.4 184.2 L212.6 185.3 L212.8 188.6 L213.0 188.2 L213.2 188.8 L213.4 188.2 L213.7 190.5 L213.9 192.1 L214.1 191.9 L214.3 192.2 L214.4 192.6 L214.5 192.2 L214.7 190.9 L214.9 188.4 L215.1 186.1 L215.3 183.7 L215.5 186.1 L215.8 185.4 L216.0 186.0 L216.2 181.9 L216.3 181.6 L216.4 181.7 L216.6 181.6 L216.8 180.5 L217.0 183.1 L217.2 180.9 L217.4 180.9 L217.6 183.7 L217.8 181.1 L218.1 178.7 L218.3 182.9 L218.5 179.7 L218.7 179.6 L218.9 179.1 L219.1 179.1 L219.3 178.8 L219.5 179.6 L219.5 179.6 L219.7 179.3 L219.9 180.4 L220.2 179.5 L220.4 181.9 L220.6 181.7 L220.8 178.9 L221.0 180.4 L221.2 182.0 L221.4 184.3 L221.6 184.7 L221.8 183.3 L222.0 183.2 L222.1 183.7 L222.2 183.4 L222.5 182.9 L222.7 183.3 L222.9 181.3 L223.1 183.4 L223.3 184.3 L223.5 182.2 L223.7 182.9 L223.9 183.7 L224.1 184.3 L224.3 184.0 L224.5 182.4 L224.8 182.4 L225.0 184.9 L225.2 182.9 L225.4 182.7 L225.6 184.5 L225.8 182.2 L226.0 183.2 L226.2 183.3 L226.4 182.7 L226.5 182.9 L226.6 182.6 L226.9 183.9 L227.1 183.6 L227.3 185.9 L227.5 181.8 L227.7 185.6 L227.9 185.8 L228.0 186.5 L228.1 186.3 L228.3 184.9 L228.5 181.0 L228.7 187.3 L228.9 185.3 L229.2 182.8 L229.4 182.6 L229.6 183.0 L229.8 178.1 L230.0 179.6 L230.2 182.4 L230.4 178.8 L230.6 181.4 L230.8 177.2 L231.0 178.2 L231.3 177.0 L231.5 174.4 L231.7 175.2 L231.9 176.0 L232.1 174.6 L232.1 174.6 L232.3 174.2 L232.5 173.3 L232.7 175.3 L232.9 173.3 L233.1 173.2 L233.3 172.9 L233.6 177.5 L233.8 175.7 L234.0 173.1 L234.2 172.6 L234.4 172.2 L234.6 177.4 L234.8 174.7 L235.0 173.3 L235.2 169.6 L235.4 174.1 L235.7 174.4 L235.9 173.9 L236.1 172.3 L236.3 173.9 L236.5 172.5 L236.7 173.7 L236.8 173.5 L236.9 173.3 L237.1 173.4 L237.3 172.6 L237.5 173.3 L237.7 174.8 L238.0 170.6 L238.2 170.4 L238.4 171.4 L238.6 170.3 L238.8 168.4 L239.0 170.7 L239.2 169.8 L239.4 168.2 L239.6 167.5 L239.8 168.4 L240.0 169.2 L240.3 167.4 L240.3 167.4 L240.5 167.3 L240.7 167.6 L240.9 168.4 L241.1 167.9 L241.3 169.0 L241.5 170.4 L241.7 170.5 L241.9 170.5 L242.1 170.6 L242.4 171.7 L242.6 169.2 L242.8 171.8 L243.0 169.5 L243.2 171.6 L243.4 170.2 L243.6 168.3 L243.8 169.7 L244.0 171.8 L244.2 171.3 L244.4 171.2 L244.7 172.0 L244.8 171.6 L244.9 171.9 L245.1 171.6 L245.3 172.2 L245.5 171.4 L245.7 170.0 L245.9 169.5 L246.1 169.0 L246.3 169.3 L246.5 170.8 L246.8 170.7 L247.0 171.0 L247.2 171.1 L247.4 170.9 L247.6 173.2 L247.8 171.6 L248.0 170.4 L248.2 170.3 L248.3 169.9 L248.4 169.9 L248.6 169.0 L248.8 169.2 L249.1 165.4 L249.3 171.7 L249.5 169.4 L249.7 171.1 L249.9 166.9 L250.1 162.7 L250.3 169.5 L250.5 167.1 L250.7 165.5 L250.9 166.1 L251.1 164.7 L251.4 167.9 L251.6 164.7 L251.8 164.5 L251.8 164.5 L252.0 164.3 L252.2 165.1 L252.4 163.5 L252.6 164.7 L252.8 163.9 L253.0 164.8 L253.2 167.8 L253.5 165.1 L253.7 163.8 L253.9 162.5 L254.1 164.7 L254.3 163.9 L254.5 162.6 L254.7 162.9 L254.9 161.2 L255.1 159.4 L255.3 163.5 L255.5 166.3 L255.8 162.6 L256.0 160.3 L256.2 160.6 L256.4 160.8 L256.6 163.0 L256.8 163.1 L257.0 162.6 L257.0 162.6 L257.2 164.7 L257.3 165.4 L257.4 166.0 L257.6 166.7 L257.9 161.7 L258.1 160.7 L258.3 164.5 L258.5 165.6 L258.7 164.2 L258.9 165.3 L259.1 162.1 L259.3 163.3 L259.5 165.2 L259.7 161.7 L259.9 163.6 L260.2 162.8 L260.4 162.8 L260.6 163.1 L260.8 162.1 L261.0 163.3 L261.2 165.4 L261.4 166.4 L261.6 165.1 L261.8 163.8 L262.0 161.9 L262.3 161.2 L262.5 161.0 L262.5 161.0 L262.7 160.6 L262.9 161.5 L263.1 161.9 L263.3 164.0 L263.5 161.4 L263.7 159.4 L263.9 158.6 L264.1 159.2 L264.3 159.4 L264.6 157.5 L264.8 158.3 L265.0 157.2 L265.2 157.0 L265.4 157.3 L265.6 155.5 L265.8 157.8 L266.0 157.6 L266.1 157.4 L266.2 157.6 L266.4 158.2 L266.6 155.0 L266.9 153.4 L267.1 155.6 L267.3 155.3 L267.5 154.1 L267.7 154.2 L267.9 153.5 L268.1 157.1 L268.3 157.1 L268.5 155.2 L268.7 153.0 L269.0 154.4 L269.2 156.2 L269.4 155.8 L269.6 156.1 L269.8 156.4 L270.0 152.6 L270.2 154.7 L270.4 154.2 L270.6 150.5 L270.8 150.9 L271.0 152.2 L271.3 154.1 L271.5 152.9 L271.7 151.5 L271.9 152.7 L272.0 153.0 L272.1 152.1 L272.3 151.4 L272.5 150.1 L272.7 150.5 L272.9 149.2 L273.1 146.9 L273.4 150.1 L273.6 148.4 L273.8 146.9 L274.0 147.3 L274.2 146.5 L274.4 144.0 L274.6 142.2 L274.8 143.2 L274.9 143.3 L275.0 144.3 L275.2 148.2 L275.4 146.9 L275.7 150.9 L275.9 154.0 L276.1 157.7 L276.3 159.2 L276.4 160.2 L276.5 159.9 L276.7 158.2 L276.9 155.8 L277.1 154.7 L277.3 152.8 L277.5 153.1 L277.8 148.8 L278.0 149.0 L278.2 147.3 L278.2 147.3 L278.4 147.7 L278.6 148.4 L278.8 149.1 L279.0 148.1 L279.2 146.8 L279.4 147.5 L279.6 146.7 L279.6 146.7 L279.8 147.0 L280.1 147.7 L280.3 150.0 L280.5 151.2 L280.7 152.7 L280.9 153.9 L281.1 153.9 L281.3 156.0 L281.5 159.7 L281.7 158.8 L281.8 159.2 L281.9 159.0 L282.1 157.3 L282.4 157.4 L282.6 155.5 L282.8 150.9 L283.0 154.0 L283.2 153.6 L283.4 151.9 L283.5 150.8 L283.6 152.1 L283.8 154.7 L284.0 153.6 L284.2 155.0 L284.5 157.9 L284.7 158.1 L284.9 156.2 L285.1 157.0 L285.1 157.0 L285.3 157.0 L285.5 156.0 L285.7 153.5 L285.9 151.5 L286.1 152.1 L286.3 153.4 L286.5 153.4 L286.8 150.5 L287.0 149.9 L287.2 152.2 L287.4 151.4 L287.6 151.1 L287.8 151.1 L288.0 151.7 L288.2 152.9 L288.4 151.7 L288.6 152.6 L288.9 148.2 L289.1 147.6 L289.3 149.3 L289.5 147.6 L289.6 147.7 L289.7 147.3 L289.9 149.0 L290.1 145.1 L290.3 145.2 L290.5 143.1 L290.7 147.7 L290.9 146.1 L291.2 145.7 L291.4 145.8 L291.6 145.8 L291.8 144.3 L292.0 147.8 L292.2 148.4 L292.4 148.7 L292.6 147.3 L292.8 146.9 L293.0 145.0 L293.2 144.6 L293.5 144.7 L293.7 145.3 L293.9 144.8 L294.0 144.5 L294.1 144.2 L294.3 143.3 L294.5 143.5 L294.7 144.3 L294.9 141.4 L295.1 143.9 L295.3 142.6 L295.6 141.3 L295.8 143.0 L296.0 141.7 L296.2 144.4 L296.4 141.6 L296.6 142.0 L296.8 144.9 L297.0 142.0 L297.2 143.3 L297.4 141.4 L297.6 142.0 L297.6 142.0 L297.9 142.0 L298.1 141.4 L298.3 141.9 L298.5 141.0 L298.7 141.9 L298.9 140.1 L299.1 140.5 L299.3 140.2 L299.5 143.1 L299.7 140.2 L299.8 140.2 L300.0 140.7 L300.2 143.5 L300.4 143.6 L300.6 143.5 L300.8 143.2 L301.0 147.4 L301.2 145.2 L301.4 148.0 L301.6 147.1 L301.8 150.4 L301.9 151.2 L302.0 150.1 L302.3 148.8 L302.5 147.5 L302.6 146.3 L302.7 146.9 L302.9 147.8 L303.1 147.6 L303.3 150.0 L303.5 154.2 L303.7 156.3 L303.8 156.6 L303.9 155.8 L304.1 154.1 L304.4 152.2 L304.6 148.2 L304.8 146.1 L304.8 146.1 L305.0 147.5 L305.2 148.6 L305.4 150.2 L305.6 151.1 L305.8 151.4 L306.0 152.5 L306.2 155.6 L306.4 156.7 L306.4 156.7 L306.7 154.1 L306.9 152.2 L307.1 149.2 L307.3 149.6 L307.5 146.8 L307.5 146.8 L307.7 149.2 L307.9 153.2 L308.1 155.1 L308.3 155.1 L308.5 156.1 L308.7 157.2 L309.0 163.1 L309.2 167.3 L309.4 167.1 L309.6 169.1 L309.7 170.6 L309.8 169.6 L310.0 169.4 L310.2 166.1 L310.4 163.8 L310.6 162.4 L310.8 162.6 L311.1 160.4 L311.3 158.4 L311.5 157.8 L311.6 156.9 L311.7 157.3 L311.9 156.5 L312.1 155.1 L312.3 155.1 L312.5 153.3 L312.7 154.9 L312.9 154.2 L313.1 154.0 L313.4 152.2 L313.6 149.7 L313.8 151.6 L314.0 148.1 L314.2 147.6 L314.4 148.3 L314.6 148.5 L314.8 146.3 L315.0 148.5 L315.2 148.7 L315.5 150.0 L315.7 147.7 L315.9 146.9 L316.0 147.1 L316.1 146.8 L316.3 146.4 L316.5 147.0 L316.7 146.7 L316.9 149.2 L317.1 145.9 L317.3 147.3 L317.5 148.8 L317.8 148.7 L318.0 148.7 L318.2 146.0 L318.4 144.8 L318.6 147.7 L318.8 146.5 L318.9 146.7 L319.0 146.2 L319.2 146.4 L319.4 148.3 L319.6 147.4 L319.8 146.7 L320.1 144.6 L320.3 144.9 L320.5 147.4 L320.7 144.3 L320.9 145.9 L321.1 142.2 L321.3 144.3 L321.5 143.8 L321.7 143.6 L321.9 142.8 L322.2 139.4 L322.4 138.8 L322.6 139.1 L322.8 139.6 L323.0 139.6 L323.0 139.6 L323.2 140.8 L323.4 141.9 L323.6 143.4 L323.8 141.9 L324.0 143.8 L324.2 144.8 L324.5 146.1 L324.7 148.6 L324.9 145.5 L325.1 143.8 L325.3 145.6 L325.5 148.4 L325.7 152.5 L325.9 149.5 L326.1 147.7 L326.3 149.3 L326.6 150.3 L326.6 150.3 L326.8 147.9 L327.0 145.6 L327.2 146.5 L327.4 143.6 L327.6 142.3 L327.8 144.8 L328.0 142.6 L328.2 141.4 L328.4 139.1 L328.4 139.1 L328.6 138.7 L328.9 140.0 L329.1 142.4 L329.3 137.5 L329.5 137.4 L329.7 135.5 L329.9 139.3 L330.1 136.5 L330.3 133.9 L330.5 133.1 L330.7 136.4 L331.0 136.5 L331.2 137.0 L331.4 135.3 L331.6 134.5 L331.8 136.1 L332.0 136.8 L332.1 136.3 L332.2 137.1 L332.4 139.5 L332.6 140.2 L332.8 142.5 L333.0 144.2 L333.1 145.7 L333.3 145.1 L333.5 145.5 L333.7 144.8 L333.9 142.2 L334.1 145.1 L334.3 144.3 L334.5 142.7 L334.7 143.1 L334.9 144.3 L335.0 144.5 L335.1 144.5 L335.3 144.9 L335.6 143.0 L335.8 141.4 L336.0 136.9 L336.2 140.5 L336.4 137.8 L336.6 137.1 L336.8 139.8 L337.0 138.1 L337.2 136.6 L337.2 136.6 L337.4 137.7 L337.7 138.5 L337.9 138.2 L338.1 140.7 L338.3 139.9 L338.5 142.0 L338.7 143.0 L338.9 142.2 L339.1 143.7 L339.3 144.2 L339.3 144.2 L339.5 142.6 L339.7 142.5 L340.0 142.7 L340.2 141.1 L340.4 142.0 L340.6 139.7 L340.8 142.4 L341.0 139.9 L341.2 140.6 L341.4 140.9 L341.6 136.6 L341.8 139.2 L342.1 135.4 L342.3 135.7 L342.5 134.2 L342.7 137.3 L342.9 134.4 L343.1 132.8 L343.3 134.6 L343.5 134.8 L343.7 130.3 L343.9 132.3 L344.1 133.6 L344.4 134.0 L344.6 132.0 L344.8 131.3 L345.0 131.2 L345.2 130.4 L345.3 130.8 L345.4 130.6 L345.6 129.8 L345.8 127.4 L346.0 130.6 L346.2 128.1 L346.4 125.8 L346.7 130.1 L346.9 130.8 L347.1 130.7 L347.3 131.8 L347.5 128.2 L347.7 130.6 L347.9 127.3 L348.1 126.5 L348.2 126.8 L348.3 127.0 L348.5 127.0 L348.8 129.4 L349.0 125.5 L349.2 126.5 L349.4 125.8 L349.6 124.9 L349.8 123.6 L350.0 124.4 L350.2 123.8 L350.4 123.5 L350.4 123.5 L350.6 124.2 L350.8 126.4 L351.1 126.0 L351.3 129.5 L351.5 128.3 L351.7 126.5 L351.9 128.2 L351.9 128.2 L352.1 128.2 L352.3 126.8 L352.5 127.5 L352.7 128.3 L352.9 126.5 L353.2 123.1 L353.4 122.0 L353.6 122.0 L353.8 121.6 L353.9 120.9 L354.0 123.9 L354.2 127.7 L354.4 133.1 L354.6 139.5 L354.8 144.2 L354.8 144.2 L355.0 144.0 L355.2 139.3 L355.5 139.7 L355.6 138.8 L355.7 142.9 L355.9 150.8 L356.1 159.2 L356.2 163.2 L356.3 164.7 L356.5 167.7 L356.6 168.6 L356.7 170.4 L356.9 172.1 L357.0 173.8 L357.1 175.9 L357.3 179.7 L357.3 179.7 L357.6 170.7 L357.8 159.8 L357.8 159.8 L358.0 160.6 L358.2 160.4 L358.4 162.5 L358.5 162.7 L358.6 161.2 L358.8 158.0 L359.0 156.7 L359.2 152.5 L359.4 151.5 L359.6 148.4 L359.9 144.7 L360.0 143.2 L360.1 144.3 L360.3 144.7 L360.5 146.2 L360.7 147.5 L360.9 146.5 L361.1 144.6 L361.3 146.1 L361.5 144.2 L361.7 147.8 L361.9 149.3 L362.2 145.5 L362.4 146.7 L362.6 147.2 L362.8 148.4 L362.8 148.4 L363.0 146.3 L363.2 144.4 L363.4 142.1 L363.6 141.3 L363.8 137.9 L364.0 138.8 L364.3 138.4 L364.5 137.9 L364.7 132.3 L364.9 132.5 L365.1 131.2 L365.3 128.7 L365.4 127.5 L365.5 128.3 L365.7 130.6 L365.9 131.4 L366.1 132.6 L366.3 133.6 L366.6 135.3 L366.8 134.9 L367.0 136.0 L367.2 136.6 L367.3 137.1 L367.4 136.7 L367.6 135.7 L367.8 138.8 L368.0 136.7 L368.2 136.1 L368.4 132.9 L368.7 135.3 L368.9 134.1 L369.1 132.7 L369.3 131.9 L369.5 129.0 L369.7 130.0 L369.9 127.6 L370.1 130.4 L370.3 131.3 L370.5 126.4 L370.7 126.1 L371.0 125.9 L371.0 125.9 L371.2 124.9 L371.4 123.6 L371.6 125.3 L371.8 121.8 L372.0 122.6 L372.2 119.9 L372.4 120.0 L372.6 122.9 L372.8 122.1 L373.1 117.4 L373.3 117.5 L373.5 117.4 L373.7 115.9 L373.9 115.9 L374.1 115.2 L374.3 113.8 L374.4 113.4 L374.5 114.1 L374.7 113.9 L374.9 115.9 L375.1 114.8 L375.4 115.5 L375.6 116.7 L375.8 119.1 L376.0 122.2 L376.2 124.2 L376.4 126.0 L376.6 127.3 L376.6 127.3 L376.8 126.2 L377.0 125.7 L377.2 121.3 L377.4 120.8 L377.7 121.3 L377.9 123.0 L378.1 119.6 L378.3 117.9 L378.5 116.5 L378.6 115.5 L378.7 116.5 L378.9 119.8 L379.1 118.8 L379.3 119.8 L379.5 116.6 L379.8 120.7 L380.0 122.9 L380.2 122.8 L380.4 125.1 L380.5 125.9 L380.6 124.9 L380.8 123.5 L381.0 122.6 L381.2 117.6 L381.4 115.7 L381.6 114.1 L381.8 114.3 L382.0 113.5 L382.1 113.4 L382.3 114.0 L382.5 111.7 L382.7 114.5 L382.9 112.0 L383.1 110.2 L383.3 109.0 L383.5 112.2 L383.7 109.8 L383.9 111.7 L384.2 112.2 L384.4 113.1 L384.6 109.2 L384.8 107.0 L385.0 109.8 L385.2 110.7 L385.4 110.2 L385.6 105.2 L385.8 106.0 L386.0 108.5 L386.2 111.1 L386.5 109.9 L386.7 106.9 L386.9 106.7 L387.0 107.3 L387.1 107.2 L387.3 108.0 L387.5 108.6 L387.7 111.0 L387.9 107.3 L388.1 109.5 L388.3 106.7 L388.5 110.4 L388.8 110.9 L389.0 108.6 L389.2 109.7 L389.4 107.6 L389.6 108.4 L389.8 109.4 L390.0 108.8 L390.0 108.8 L390.2 107.1 L390.4 108.7 L390.6 103.3 L390.9 102.9 L391.1 101.9 L391.3 103.1 L391.5 101.0 L391.5 101.0 L391.7 102.1 L391.9 101.1 L392.1 104.7 L392.3 105.4 L392.5 107.8 L392.7 106.1 L392.9 105.0 L393.2 107.8 L393.4 107.0 L393.6 106.8 L393.6 106.8 L393.8 105.3 L394.0 104.3 L394.2 105.2 L394.4 106.6 L394.6 106.3 L394.8 105.3 L395.0 103.4 L395.3 102.7 L395.5 99.4 L395.7 100.3 L395.9 102.3 L396.1 98.4 L396.3 97.8 L396.5 98.6 L396.7 99.8 L396.9 101.6 L397.1 100.4 L397.3 96.6 L397.6 97.8 L397.8 98.6 L398.0 96.1 L398.2 94.8 L398.4 93.5 L398.6 92.7 L398.8 90.8 L399.0 93.4 L399.2 91.9 L399.4 91.9 L399.4 91.9 L399.7 92.3 L399.9 93.0 L400.1 93.6 L400.3 93.1 L400.5 95.3 L400.7 96.0 L400.8 96.7 L400.9 96.2 L401.1 95.7 L401.3 96.6 L401.5 97.0 L401.7 96.6 L402.0 95.7 L402.2 94.9 L402.4 89.6 L402.6 91.5 L402.8 91.7 L403.0 94.2 L403.2 94.4 L403.4 93.7 L403.6 92.4 L403.8 93.7 L404.0 89.7 L404.3 91.7 L404.5 89.5 L404.7 94.1 L404.9 91.5 L405.1 90.1 L405.3 89.8 L405.4 89.7 L405.5 89.4 L405.7 88.9 L405.9 88.7 L406.1 91.9 L406.4 90.8 L406.6 93.0 L406.8 88.7 L407.0 87.8 L407.2 88.2 L407.4 89.2 L407.6 88.9 L407.8 84.8 L408.0 83.6 L408.2 86.0 L408.4 84.4 L408.7 88.0 L408.9 87.8 L409.1 86.2 L409.1 86.2 L409.3 86.7 L409.5 86.8 L409.7 85.5 L409.9 80.3 L410.1 84.5 L410.3 84.4 L410.5 83.9 L410.8 84.0 L411.0 82.4 L411.2 80.3 L411.4 84.4 L411.6 83.2 L411.8 83.3 L412.0 82.2 L412.2 84.3 L412.4 83.5 L412.6 81.9 L412.6 81.9 L412.8 82.6 L413.1 82.7 L413.3 83.1 L413.5 87.5 L413.7 85.9 L413.9 86.3 L414.1 87.8 L414.3 87.8 L414.5 85.5 L414.7 85.4 L414.9 86.6 L415.1 86.4 L415.4 88.4 L415.6 88.3 L415.8 88.6 L416.0 89.1 L416.0 89.1 L416.2 88.5 L416.4 88.2 L416.6 87.8 L416.8 88.1 L417.0 83.1 L417.2 84.1 L417.5 84.1 L417.7 80.7 L417.9 80.8 L418.1 85.2 L418.3 82.5 L418.5 81.1 L418.7 78.6 L418.9 78.4 L419.1 78.8 L419.3 81.7 L419.5 81.7 L419.8 79.5 L420.0 78.1 L420.2 79.8 L420.4 78.4 L420.6 77.5 L420.7 77.0 L420.8 77.5 L421.0 78.0 L421.2 79.5 L421.4 82.1 L421.6 79.8 L421.9 80.5 L422.1 82.6 L422.1 82.6 L422.3 81.4 L422.5 80.6 L422.7 79.7 L422.9 79.4 L423.1 81.0 L423.3 79.0 L423.5 77.3 L423.7 79.6 L423.9 75.3 L424.2 73.5 L424.4 73.0 L424.6 72.2 L424.8 74.2 L425.0 75.7 L425.2 75.3 L425.2 75.3 L425.4 75.1 L425.6 73.8 L425.6 73.8 L425.8 75.6 L426.0 76.5 L426.3 82.1 L426.5 78.0 L426.7 78.1 L426.9 83.1 L427.1 84.7 L427.3 87.0 L427.5 89.5 L427.7 91.6 L427.7 91.6 L427.9 89.1 L428.1 87.7 L428.3 84.1 L428.6 81.6 L428.7 80.3 L428.8 80.9 L429.0 83.1 L429.2 84.0 L429.4 85.0 L429.6 85.4 L429.8 89.1 L430.0 88.8 L430.2 88.7 L430.4 90.2 L430.6 93.1 L430.9 94.5 L431.0 95.0 L431.1 94.7 L431.3 93.0 L431.5 89.8 L431.7 91.0 L431.9 91.5 L432.1 89.3 L432.3 88.3 L432.5 89.1 L432.7 88.3 L433.0 86.4 L433.2 83.9 L433.4 85.5 L433.6 85.0 L433.8 81.7 L434.0 82.4 L434.2 80.1 L434.4 78.9 L434.4 78.9 L434.6 80.0 L434.8 82.3 L435.0 82.5 L435.3 83.7 L435.5 83.6 L435.7 86.2 L435.9 84.6 L436.1 89.2 L436.3 88.9 L436.5 89.2 L436.7 88.5 L436.9 91.5 L437.1 91.2 L437.4 93.4 L437.6 93.8 L437.7 94.4 L437.8 94.3 L438.0 95.8 L438.2 96.2 L438.4 99.3 L438.6 97.9 L438.8 97.9 L439.0 100.5 L439.2 103.8 L439.4 103.1 L439.7 103.6 L439.9 105.4 L439.9 105.4 L440.1 102.6 L440.3 103.3 L440.5 101.3 L440.7 96.1 L440.9 96.1 L441.1 93.5 L441.1 93.5 L441.3 94.4 L441.5 96.3 L441.7 97.8 L442.0 102.4 L442.2 106.8 L442.4 107.7 L442.6 109.6 L442.8 111.6 L442.8 111.6 L443.0 110.2 L443.2 109.6 L443.4 108.4 L443.6 107.0 L443.8 106.6 L444.1 104.6 L444.3 104.8 L444.3 104.8 L444.5 103.9 L444.7 103.5 L444.9 103.7 L445.1 100.1 L445.3 100.4 L445.5 102.0 L445.7 101.2 L445.9 99.7 L446.1 99.3 L446.4 96.2 L446.6 98.4 L446.8 95.8 L447.0 95.2 L447.2 96.6 L447.4 94.5 L447.6 93.6 L447.8 91.9 L448.0 92.4 L448.2 90.8 L448.5 93.1 L448.7 91.8 L448.9 88.8 L449.1 88.3 L449.1 88.3 L449.3 89.6 L449.5 92.0 L449.7 91.4 L449.9 97.4 L450.1 98.2 L450.3 97.1 L450.5 98.4 L450.8 100.9 L450.9 101.4 L451.0 101.4 L451.2 98.7 L451.4 97.5 L451.6 97.6 L451.8 95.6 L451.9 94.9 L452.0 95.6 L452.2 100.2 L452.4 99.4 L452.6 100.7 L452.9 107.1 L453.1 105.9 L453.3 111.1 L453.5 109.8 L453.7 112.3 L453.8 113.5 L453.9 113.0 L454.1 114.2 L454.3 114.8 L454.5 113.7 L454.7 116.4 L454.9 117.0 L455.2 117.1 L455.2 117.1 L455.4 115.3 L455.6 114.6 L455.8 110.9 L456.0 108.2 L456.2 106.8 L456.4 103.4 L456.6 103.1 L456.7 102.2 L456.8 101.5 L457.0 101.7 L457.2 100.0 L457.5 103.6 L457.7 100.9 L457.9 100.5 L458.1 100.6 L458.3 100.5 L458.5 99.8 L458.7 99.9 L458.9 102.0 L459.1 99.8 L459.3 98.8 L459.6 98.2 L459.8 98.6 L460.0 96.6 L460.2 95.5 L460.3 95.5 L460.4 95.9 L460.6 97.2 L460.8 95.6 L461.0 96.1 L461.2 97.0 L461.4 97.4 L461.6 100.5 L461.9 101.6 L462.1 100.6 L462.3 103.5 L462.5 104.2 L462.7 104.3 L462.9 105.2 L463.1 106.3 L463.1 106.3 L463.3 105.0 L463.5 104.9 L463.7 103.1 L464.0 101.6 L464.2 101.3 L464.4 100.7 L464.6 103.1 L464.8 103.6 L465.0 102.2 L465.2 99.5 L465.4 96.6 L465.6 99.6 L465.8 97.7 L466.0 97.6 L466.3 96.4 L466.3 96.4 L466.5 95.5 L466.7 93.4 L466.9 92.4 L466.9 92.4 L467.1 92.2 L467.3 94.5 L467.5 93.3 L467.7 93.2 L467.9 95.1 L468.1 95.4 L468.3 97.7 L468.6 99.7 L468.8 99.7 L469.0 100.5 L469.2 95.5 L469.4 99.9 L469.6 98.3 L469.8 100.6 L470.0 101.6 L470.2 101.6 L470.4 104.6 L470.7 103.7 L470.9 104.9 L471.0 105.4 L471.1 105.3 L471.3 103.5 L471.5 101.6 L471.7 100.4 L471.9 97.4 L472.1 99.0 L472.3 97.2 L472.5 96.0 L472.7 96.0 L472.9 95.2 L473.0 94.8 L473.2 96.2 L473.4 97.7 L473.6 95.0 L473.8 96.7 L474.0 95.6 L474.2 97.7 L474.4 95.6 L474.6 96.8 L474.8 94.8 L475.1 97.2 L475.3 94.6 L475.5 95.0 L475.7 94.5 L475.9 94.6 L476.1 94.3 L476.3 95.2 L476.5 94.3 L476.5 94.3 L476.7 94.4 L476.9 94.9 L477.1 94.2 L477.4 92.2 L477.6 95.1 L477.8 93.7 L478.0 92.7 L478.2 92.8 L478.4 90.3 L478.6 89.9 L478.8 90.6 L479.0 90.7 L479.2 87.6 L479.5 88.7 L479.7 86.6 L479.9 85.9 L480.1 89.2 L480.3 88.5 L480.5 86.1 L480.7 84.9 L480.9 84.5 L480.9 84.5 L481.1 83.7 L481.3 82.4 L481.5 83.9 L481.8 84.0 L482.0 82.3 L482.2 83.6 L482.4 81.5 L482.6 84.9 L482.8 82.2 L483.0 82.6 L483.2 85.5 L483.4 81.4 L483.6 81.1 L483.8 81.4 L484.1 83.1 L484.3 82.4 L484.5 78.9 L484.7 81.5 L484.9 86.4 L485.1 83.5 L485.3 81.9 L485.5 80.1 L485.6 79.8 L485.7 80.5 L485.9 82.2 L486.2 84.0 L486.4 81.9 L486.6 85.9 L486.8 82.3 L487.0 85.8 L487.2 87.7 L487.4 87.4 L487.5 88.0 L487.6 87.3 L487.8 87.5 L488.0 85.0 L488.2 87.6 L488.5 86.3 L488.7 82.4 L488.9 82.2 L489.0 81.8 L489.1 82.4 L489.3 82.4 L489.5 81.4 L489.7 83.0 L489.9 86.7 L490.1 85.8 L490.3 84.7 L490.6 84.1 L490.8 82.5 L491.0 85.8 L491.2 87.5 L491.4 87.6 L491.6 86.0 L491.8 89.3 L492.0 87.0 L492.2 93.2 L492.4 89.7 L492.6 91.3 L492.9 90.3 L493.1 90.0 L493.3 93.3 L493.5 92.8 L493.7 92.5 L493.9 92.2 L494.1 94.9 L494.3 96.1 L494.5 96.9 L494.7 94.6 L494.8 95.4 L495.0 94.8 L495.2 94.0 L495.4 95.3 L495.6 91.1 L495.8 91.5 L496.0 87.7 L496.2 86.8 L496.4 87.2 L496.6 85.4 L496.8 87.2 L497.0 85.7 L497.3 85.0 L497.5 84.2 L497.7 81.9 L497.8 81.2 L497.9 81.1 L498.1 79.3 L498.3 85.0 L498.5 82.4 L498.7 81.7 L498.9 80.5 L499.1 78.4 L499.3 77.5 L499.6 77.6 L499.8 78.2 L500.0 76.5 L500.2 75.9 L500.4 79.0 L500.6 77.1 L500.8 78.1 L501.0 76.7 L501.2 74.8 L501.3 74.5 L501.4 74.4 L501.7 74.1 L501.9 75.4 L502.1 74.6 L502.3 75.3 L502.5 73.4 L502.7 72.1 L502.9 69.9 L503.1 69.9 L503.3 73.1 L503.5 73.4 L503.7 74.1 L504.0 72.2 L504.2 70.7 L504.4 71.8 L504.4 71.8 L504.6 72.6 L504.8 73.3 L505.0 73.6 L505.2 70.3 L505.4 69.9 L505.6 69.0 L505.8 66.1 L506.1 69.2 L506.3 69.8 L506.5 65.2 L506.7 66.2 L506.9 67.9 L507.1 68.2 L507.3 66.4 L507.3 66.4 L507.5 68.2 L507.7 67.0 L507.9 66.0 L508.1 63.9 L508.4 64.9 L508.6 65.9 L508.8 66.1 L509.0 61.7 L509.2 66.1 L509.4 64.1 L509.6 63.6 L509.8 62.3 L510.0 63.3 L510.2 62.0 L510.4 61.2 L510.7 62.1 L510.9 61.9 L510.9 61.9 L511.1 62.8 L511.3 64.7 L511.5 65.0 L511.7 65.6 L511.9 65.5 L512.1 64.2 L512.3 64.3 L512.5 67.7 L512.8 67.8 L513.0 69.0 L513.2 70.1 L513.2 70.1 L513.4 69.2 L513.6 68.2 L513.8 68.6 L514.0 68.7 L514.2 65.6 L514.4 63.5 L514.6 63.4 L514.8 63.3 L515.1 63.0 L515.3 63.6 L515.5 65.5 L515.7 61.6 L515.9 60.9 L516.1 60.3 L516.1 60.3 L516.3 60.8 L516.5 58.6 L516.7 62.0 L516.9 57.2 L517.2 57.4 L517.4 54.5 L517.6 58.4 L517.8 58.3 L518.0 58.9 L518.2 57.8 L518.4 57.9 L518.6 58.6 L518.8 55.7 L519.0 57.6 L519.2 57.6 L519.5 55.9 L519.7 56.1 L519.8 55.9 L519.9 55.9 L520.1 55.2 L520.3 55.6 L520.5 56.9 L520.7 55.3 L520.9 54.7 L521.1 51.2 L521.3 54.5 L521.6 51.9 L521.8 53.7 L522.0 53.2 L522.2 52.5 L522.4 51.9 L522.4 51.9 L522.6 52.7 L522.8 52.0 L523.0 56.1 L523.2 55.3 L523.4 56.5 L523.6 58.2 L523.9 62.2 L524.1 61.9 L524.3 64.2 L524.5 65.6 L524.5 65.6 L524.7 64.7 L524.9 62.7 L525.1 60.4 L525.3 59.0 L525.5 60.0 L525.7 57.6 L525.9 55.4 L526.2 57.8 L526.4 53.9 L526.6 56.6 L526.8 53.8 L527.0 52.7 L527.1 52.4 L527.2 52.7 L527.4 54.2 L527.6 56.9 L527.8 58.4 L527.8 58.4 L528.0 58.8 L528.3 56.9 L528.5 57.0 L528.7 57.5 L528.9 55.2 L529.1 56.3 L529.3 55.7 L529.5 55.1 L529.7 51.2 L529.9 49.9 L530.1 51.8 L530.3 54.3 L530.6 51.6 L530.8 50.8 L531.0 49.7 L531.2 48.7 L531.4 49.4 L531.6 47.2 L531.8 46.7 L532.0 47.2 L532.2 47.1 L532.2 47.1 L532.4 48.0 L532.7 47.6 L532.9 50.3 L533.1 50.1 L533.3 51.2 L533.5 51.7 L533.7 51.2 L533.7 51.2 L533.9 49.7 L534.1 48.2 L534.3 45.7 L534.5 46.2 L534.7 43.9 L534.7 43.9 L535.0 45.7 L535.2 47.6 L535.2 47.6 L535.4 47.6 L535.6 46.0 L535.8 45.5 L536.0 43.2 L536.2 42.4 L536.4 42.8 L536.6 40.0 L536.8 42.2 L537.0 43.1 L537.3 42.5 L537.4 42.1 L537.5 42.9 L537.7 43.7 L537.9 47.4 L538.1 46.2 L538.3 45.6 L538.5 45.8 L538.7 47.7 L538.8 48.1 L538.9 47.7 L539.1 48.5 L539.4 48.7 L539.6 51.6 L539.8 50.8 L540.0 50.7 L540.2 47.1 L540.4 47.6 L540.6 50.4 L540.8 48.8 L541.0 48.8 L541.2 49.4 L541.3 49.5 L541.4 48.8 L541.7 47.6 L541.9 46.8 L542.1 46.8 L542.3 43.3 L542.5 41.5 L542.5 41.5 L542.7 41.3 L542.9 43.0 L543.1 45.1 L543.3 45.4 L543.5 46.0 L543.5 46.0 L543.8 45.0 L544.0 45.3 L544.2 43.8 L544.4 43.7 L544.6 42.2 L544.8 42.6 L545.0 42.6 L545.2 41.0 L545.2 41.0 L545.4 42.0 L545.6 44.9 L545.8 45.7 L546.1 45.2 L546.3 48.0 L546.5 50.2 L546.7 47.6 L546.9 49.7 L547.1 51.4 L547.3 54.8 L547.5 55.9 L547.5 55.9 L547.7 55.5 L547.9 54.8 L548.2 51.8 L548.4 49.6 L548.6 50.6 L548.8 49.2 L548.8 49.2 L549.0 52.7 L549.2 58.7 L549.4 59.7 L549.6 62.9 L549.8 66.8 L549.8 66.8 L550.0 71.0 L550.1 73.3 L550.2 64.6 L550.3 56.5 L550.5 57.1 L550.7 58.2 L550.9 57.8 L551.1 62.0 L551.3 63.5 L551.5 65.4 L551.6 66.1 L551.7 64.9 L551.9 63.5 L552.1 60.9 L552.3 59.4 L552.5 57.8 L552.8 53.5 L553.0 53.8 L553.2 50.3 L553.4 48.9 L553.6 47.5 L553.8 47.2 L553.9 46.4 L554.0 46.4 L554.2 46.4 L554.4 48.5 L554.6 48.5 L554.9 49.3 L555.0 49.6 L555.1 49.4 L555.3 47.7 L555.5 49.0 L555.7 50.8 L555.9 51.1 L556.1 48.9 L556.3 48.2 L556.5 46.6 L556.7 45.1 L556.9 44.1 L557.2 44.8 L557.2 44.8 L557.4 43.7 L557.6 44.2 L557.8 42.3 L558.0 40.0 L558.2 38.9 L558.4 43.3 L558.6 40.1 L558.8 39.3 L558.9 39.6 L559.0 39.0 L559.3 40.1 L559.5 39.8 L559.7 37.9 L559.9 37.4 L560.1 38.9 L560.3 39.3 L560.5 36.3 L560.7 38.8 L560.9 35.0 L561.1 36.0 L561.3 35.9 L561.6 35.8 L561.6 35.8 L561.8 37.5 L562.0 37.6 L562.2 39.5 L562.3 39.6 L562.4 38.9 L562.6 39.8 L562.8 40.9 L563.0 38.7 L563.2 37.1 L563.4 35.9 L563.6 37.0 L563.9 36.7 L564.1 36.4 L564.3 36.5 L564.5 39.3 L564.7 34.4 L564.9 33.9 L565.1 33.6 L565.2 33.5 L565.3 33.5 L565.5 32.9 L565.7 32.7 L566.0 32.5 L566.2 30.3 L566.4 33.9 L566.6 31.6 L566.8 32.8 L567.0 31.5 L567.2 29.6 L567.4 30.0 L567.4 30.0 L567.6 30.0 L567.8 30.4 L568.0 28.2 L568.3 30.3 L568.5 31.3 L568.7 28.7 L568.9 28.5 L568.9 28.5 L569.1 28.6 L569.3 27.7 L569.5 28.2 L569.5 28.2 L569.6 32.5 L569.7 31.9 L569.9 30.3 L569.9 30.3" fill="none" stroke="url(#lineg)" stroke-width="1.25" stroke-linejoin="miter"/>
<g font-size="8.8" fill="#888">
<text x="31.5" y="76.4" text-anchor="end">4800</text>
<text x="31.5" y="169.6" text-anchor="end">2400</text>
<text x="31.5" y="262.9" text-anchor="end">1200</text>
</g>
<g stroke="#c8c8c8" stroke-width="1">
<line x1="35" y1="74.3" x2="41" y2="74.3"/><line x1="35" y1="167.5" x2="41" y2="167.5"/>
</g>
<g font-size="8.6" fill="#888">
<line x1="616.5" y1="128.7" x2="616.5" y2="356.4" stroke="#c8c8c8" stroke-width="1"/>
<line x1="613" y1="356.4" x2="619.5" y2="356.4" stroke="#c8c8c8" stroke-width="1"/>
<text x="624.3" y="359.0">-40%</text>
<line x1="614" y1="353.1" x2="616.5" y2="353.1" stroke="#d4d4d4" stroke-width="0.8"/>
<line x1="614" y1="349.9" x2="616.5" y2="349.9" stroke="#d4d4d4" stroke-width="0.8"/>
<line x1="614" y1="346.6" x2="616.5" y2="346.6" stroke="#d4d4d4" stroke-width="0.8"/>
<line x1="614" y1="343.4" x2="616.5" y2="343.4" stroke="#d4d4d4" stroke-width="0.8"/>
<line x1="613" y1="340.1" x2="619.5" y2="340.1" stroke="#c8c8c8" stroke-width="1"/>
<text x="624.3" y="342.8">-30%</text>
<line x1="614" y1="336.9" x2="616.5" y2="336.9" stroke="#d4d4d4" stroke-width="0.8"/>
<line x1="614" y1="333.6" x2="616.5" y2="333.6" stroke="#d4d4d4" stroke-width="0.8"/>
<line x1="614" y1="330.4" x2="616.5" y2="330.4" stroke="#d4d4d4" stroke-width="0.8"/>
<line x1="614" y1="327.1" x2="616.5" y2="327.1" stroke="#d4d4d4" stroke-width="0.8"/>
<line x1="613" y1="323.9" x2="619.5" y2="323.9" stroke="#c8c8c8" stroke-width="1"/>
<text x="624.3" y="326.5">-20%</text>
<line x1="614" y1="320.6" x2="616.5" y2="320.6" stroke="#d4d4d4" stroke-width="0.8"/>
<line x1="614" y1="317.4" x2="616.5" y2="317.4" stroke="#d4d4d4" stroke-width="0.8"/>
<line x1="614" y1="314.1" x2="616.5" y2="314.1" stroke="#d4d4d4" stroke-width="0.8"/>
<line x1="614" y1="310.9" x2="616.5" y2="310.9" stroke="#d4d4d4" stroke-width="0.8"/>
<line x1="613" y1="307.6" x2="619.5" y2="307.6" stroke="#c8c8c8" stroke-width="1"/>
<text x="624.3" y="310.2">-10%</text>
<line x1="614" y1="304.4" x2="616.5" y2="304.4" stroke="#d4d4d4" stroke-width="0.8"/>
<line x1="614" y1="301.1" x2="616.5" y2="301.1" stroke="#d4d4d4" stroke-width="0.8"/>
<line x1="614" y1="297.9" x2="616.5" y2="297.9" stroke="#d4d4d4" stroke-width="0.8"/>
<line x1="614" y1="294.6" x2="616.5" y2="294.6" stroke="#d4d4d4" stroke-width="0.8"/>
<line x1="613" y1="291.4" x2="619.5" y2="291.4" stroke="#c8c8c8" stroke-width="1"/>
<text x="624.3" y="294.0">0%</text>
<line x1="614" y1="288.1" x2="616.5" y2="288.1" stroke="#d4d4d4" stroke-width="0.8"/>
<line x1="614" y1="284.9" x2="616.5" y2="284.9" stroke="#d4d4d4" stroke-width="0.8"/>
<line x1="614" y1="281.6" x2="616.5" y2="281.6" stroke="#d4d4d4" stroke-width="0.8"/>
<line x1="614" y1="278.4" x2="616.5" y2="278.4" stroke="#d4d4d4" stroke-width="0.8"/>
<line x1="613" y1="275.1" x2="619.5" y2="275.1" stroke="#c8c8c8" stroke-width="1"/>
<text x="624.3" y="277.8">10%</text>
<line x1="614" y1="271.9" x2="616.5" y2="271.9" stroke="#d4d4d4" stroke-width="0.8"/>
<line x1="614" y1="268.6" x2="616.5" y2="268.6" stroke="#d4d4d4" stroke-width="0.8"/>
<line x1="614" y1="265.4" x2="616.5" y2="265.4" stroke="#d4d4d4" stroke-width="0.8"/>
<line x1="614" y1="262.1" x2="616.5" y2="262.1" stroke="#d4d4d4" stroke-width="0.8"/>
<line x1="613" y1="258.9" x2="619.5" y2="258.9" stroke="#c8c8c8" stroke-width="1"/>
<text x="624.3" y="261.5">20%</text>
<line x1="614" y1="255.6" x2="616.5" y2="255.6" stroke="#d4d4d4" stroke-width="0.8"/>
<line x1="614" y1="252.4" x2="616.5" y2="252.4" stroke="#d4d4d4" stroke-width="0.8"/>
<line x1="614" y1="249.1" x2="616.5" y2="249.1" stroke="#d4d4d4" stroke-width="0.8"/>
<line x1="614" y1="245.9" x2="616.5" y2="245.9" stroke="#d4d4d4" stroke-width="0.8"/>
<line x1="613" y1="242.6" x2="619.5" y2="242.6" stroke="#c8c8c8" stroke-width="1"/>
<text x="624.3" y="245.2">30%</text>
<line x1="614" y1="239.4" x2="616.5" y2="239.4" stroke="#d4d4d4" stroke-width="0.8"/>
<line x1="614" y1="236.1" x2="616.5" y2="236.1" stroke="#d4d4d4" stroke-width="0.8"/>
<line x1="614" y1="232.9" x2="616.5" y2="232.9" stroke="#d4d4d4" stroke-width="0.8"/>
<line x1="614" y1="229.6" x2="616.5" y2="229.6" stroke="#d4d4d4" stroke-width="0.8"/>
<line x1="613" y1="226.4" x2="619.5" y2="226.4" stroke="#c8c8c8" stroke-width="1"/>
<text x="624.3" y="229.0">40%</text>
<line x1="614" y1="223.1" x2="616.5" y2="223.1" stroke="#d4d4d4" stroke-width="0.8"/>
<line x1="614" y1="219.9" x2="616.5" y2="219.9" stroke="#d4d4d4" stroke-width="0.8"/>
<line x1="614" y1="216.6" x2="616.5" y2="216.6" stroke="#d4d4d4" stroke-width="0.8"/>
<line x1="614" y1="213.4" x2="616.5" y2="213.4" stroke="#d4d4d4" stroke-width="0.8"/>
<line x1="613" y1="210.1" x2="619.5" y2="210.1" stroke="#c8c8c8" stroke-width="1"/>
<text x="624.3" y="212.7">50%</text>
<line x1="614" y1="206.9" x2="616.5" y2="206.9" stroke="#d4d4d4" stroke-width="0.8"/>
<line x1="614" y1="203.6" x2="616.5" y2="203.6" stroke="#d4d4d4" stroke-width="0.8"/>
<line x1="614" y1="200.4" x2="616.5" y2="200.4" stroke="#d4d4d4" stroke-width="0.8"/>
<line x1="614" y1="197.1" x2="616.5" y2="197.1" stroke="#d4d4d4" stroke-width="0.8"/>
<line x1="613" y1="193.9" x2="619.5" y2="193.9" stroke="#c8c8c8" stroke-width="1"/>
<text x="624.3" y="196.5">60%</text>
<line x1="614" y1="190.6" x2="616.5" y2="190.6" stroke="#d4d4d4" stroke-width="0.8"/>
<line x1="614" y1="187.4" x2="616.5" y2="187.4" stroke="#d4d4d4" stroke-width="0.8"/>
<line x1="614" y1="184.1" x2="616.5" y2="184.1" stroke="#d4d4d4" stroke-width="0.8"/>
<line x1="614" y1="180.9" x2="616.5" y2="180.9" stroke="#d4d4d4" stroke-width="0.8"/>
<line x1="613" y1="177.6" x2="619.5" y2="177.6" stroke="#c8c8c8" stroke-width="1"/>
<text x="624.3" y="180.2">70%</text>
<line x1="614" y1="174.4" x2="616.5" y2="174.4" stroke="#d4d4d4" stroke-width="0.8"/>
<line x1="614" y1="171.1" x2="616.5" y2="171.1" stroke="#d4d4d4" stroke-width="0.8"/>
<line x1="614" y1="167.9" x2="616.5" y2="167.9" stroke="#d4d4d4" stroke-width="0.8"/>
<line x1="614" y1="164.6" x2="616.5" y2="164.6" stroke="#d4d4d4" stroke-width="0.8"/>
<line x1="613" y1="161.4" x2="619.5" y2="161.4" stroke="#c8c8c8" stroke-width="1"/>
<text x="624.3" y="164.0">80%</text>
<line x1="614" y1="158.1" x2="616.5" y2="158.1" stroke="#d4d4d4" stroke-width="0.8"/>
<line x1="614" y1="154.9" x2="616.5" y2="154.9" stroke="#d4d4d4" stroke-width="0.8"/>
<line x1="614" y1="151.6" x2="616.5" y2="151.6" stroke="#d4d4d4" stroke-width="0.8"/>
<line x1="614" y1="148.4" x2="616.5" y2="148.4" stroke="#d4d4d4" stroke-width="0.8"/>
<line x1="613" y1="145.1" x2="619.5" y2="145.1" stroke="#c8c8c8" stroke-width="1"/>
<text x="624.3" y="147.7">90%</text>
<line x1="614" y1="141.9" x2="616.5" y2="141.9" stroke="#d4d4d4" stroke-width="0.8"/>
<line x1="614" y1="138.6" x2="616.5" y2="138.6" stroke="#d4d4d4" stroke-width="0.8"/>
<line x1="614" y1="135.4" x2="616.5" y2="135.4" stroke="#d4d4d4" stroke-width="0.8"/>
<line x1="614" y1="132.1" x2="616.5" y2="132.1" stroke="#d4d4d4" stroke-width="0.8"/>
<line x1="613" y1="128.9" x2="619.5" y2="128.9" stroke="#c8c8c8" stroke-width="1"/>
<text x="624.3" y="131.5">100%</text>
</g>
<g font-size="8.9" fill="#808080">
<text x="39.5" y="370" text-anchor="middle">Dec-11</text>
<text x="77.6" y="370" text-anchor="middle">Nov-12</text>
<text x="115.7" y="370" text-anchor="middle">Nov-13</text>
<text x="153.9" y="370" text-anchor="middle">Nov-14</text>
<text x="192.0" y="370" text-anchor="middle">Nov-15</text>
<text x="230.1" y="370" text-anchor="middle">Nov-16</text>
<text x="268.2" y="370" text-anchor="middle">Nov-17</text>
<text x="306.3" y="370" text-anchor="middle">Nov-18</text>
<text x="344.5" y="370" text-anchor="middle">Nov-19</text>
<text x="382.6" y="370" text-anchor="middle">Nov-20</text>
<text x="420.7" y="370" text-anchor="middle">Nov-21</text>
<text x="458.8" y="370" text-anchor="middle">Nov-22</text>
<text x="496.9" y="370" text-anchor="middle">Nov-23</text>
<text x="535.1" y="370" text-anchor="middle">Nov-24</text>
<text x="573.2" y="370" text-anchor="middle">Nov-25</text>
<text x="611.3" y="370" text-anchor="middle">Nov-26</text>
</g>
<text x="323.6" y="23" text-anchor="middle" font-size="14.8" font-weight="bold" fill="#7a7a7a">Valuation &amp; Earnings</text>
<g filter="url(#soft)"><rect x="225" y="25.4" width="197" height="11.2" fill="#fbfbff" fill-opacity="0.72"/>
<rect x="285" y="36.6" width="78" height="10.2" fill="#fbfbff" fill-opacity="0.72"/></g>
<text x="323.6" y="34.5" text-anchor="middle" font-size="8.8" fill="#8a8a8a" xml:space="preserve">Data Source: FMRCo, Bloomberg,  Weekly data.</text>
<text x="323.6" y="44.5" text-anchor="middle" font-size="8.8" fill="#8a8a8a">Shading: valuation</text>
<g font-size="8.8" fill="#222">
<text x="171.3" y="176" text-anchor="middle">2135</text>
<text x="199.6" y="218.5" text-anchor="middle">1810</text>
<text x="353" y="113.8" text-anchor="middle">3394</text>
<text x="356.4" y="193.5" text-anchor="middle">2192</text>
<text x="424.7" y="66" text-anchor="middle">4819</text>
<text x="454.1" y="130.5" text-anchor="middle">3492</text>
<text x="544" y="33.5" text-anchor="middle">6147</text>
<text x="549.4" y="86.5" text-anchor="middle">4835</text>
<text x="568.2" y="21" text-anchor="middle">6765</text>
<text x="197" y="302" text-anchor="middle" fill="#2a0a2a">2015</text>
<text x="312.6" y="304.5" text-anchor="middle" fill="#2a0a2a">2018</text>
<text x="446.7" y="303.3" text-anchor="middle" fill="#301030">2022</text>
<text x="519" y="285.2" text-anchor="middle" fill="#3c103c" font-weight="bold" font-size="8.9">P/E + EPS</text>
</g>
<g font-size="8.8" fill="#d03cd8">
<text x="113.3" y="248" text-anchor="middle">+23%</text>
<text x="237" y="251.2" text-anchor="middle">+22%</text>
<text x="346.2" y="237.3" text-anchor="middle">+30%</text>
<text x="393.9" y="136.8" text-anchor="middle">+92%</text>
<text x="507.6" y="237.1" text-anchor="middle">+30%</text>
<text x="531.4" y="234.8" text-anchor="middle">+32%</text>
<text x="183" y="311.9" text-anchor="middle">-5%</text>
<text x="199.3" y="322.1" text-anchor="middle">-12%</text>
<text x="308.4" y="346.3" text-anchor="middle">-27%</text>
<text x="356" y="334.1" text-anchor="middle">-19%</text>
<text x="442" y="358.8" text-anchor="middle">-35%</text>
<text x="548.8" y="319.3" text-anchor="middle">-10%</text>
<text x="589.6" y="283.3" text-anchor="middle">+1%</text>
</g>
<g font-size="8.8" fill="#5a96dc">
<text x="309.3" y="247.9" text-anchor="middle">+23%</text>
<text x="427" y="205.1" text-anchor="middle">+50%</text>
<text x="380" y="329.5" text-anchor="middle">-16%</text>
<text x="588.1" y="272.2" text-anchor="middle">+11%</text>
</g>
<polyline points="570,275 574,269 577,269" fill="none" stroke="#c8c8c8" stroke-width="0.8"/>
<polyline points="570,287 578,280 581,280" fill="none" stroke="#c8c8c8" stroke-width="0.8"/>
<circle cx="582" cy="278" r="29.8" fill="none" stroke="#333" stroke-width="1.2"/>
<g font-size="8.8" fill="#707070">
<rect x="107.7" y="322.2" width="4.7" height="4.5" fill="#6cb4f0"/>
<text x="114.5" y="327.8">EPS growth</text>
<rect x="107.7" y="333.8" width="4.7" height="4.5" fill="#6a7898"/>
<text x="114.5" y="339.3">div yld</text>
<rect x="107.7" y="345" width="4.7" height="4.5" fill="#ee55ee"/>
<text x="114.5" y="350.5">P/E yoy</text>
</g>
<text x="3.8" y="390.8" font-size="7.86" fill="#555">Data as of 10/13/2025. Past performance is no guarantee of future results. Chart's black line reflects the S&amp;P500</text>
<g fill="#b9b9b9">
<circle cx="614" cy="388.6" r="9.9"/>
<g stroke="#fff" stroke-width="0.55"><line x1="611.50" y1="390.50" x2="603.00" y2="390.50"/><line x1="611.59" y1="389.85" x2="603.37" y2="387.65"/><line x1="611.83" y1="389.25" x2="604.47" y2="385.00"/><line x1="612.23" y1="388.73" x2="606.22" y2="382.72"/><line x1="612.75" y1="388.33" x2="608.50" y2="380.97"/><line x1="613.35" y1="388.09" x2="611.15" y2="379.87"/><line x1="614.00" y1="388.00" x2="614.00" y2="379.50"/><line x1="614.65" y1="388.09" x2="616.85" y2="379.87"/><line x1="615.25" y1="388.33" x2="619.50" y2="380.97"/><line x1="615.77" y1="388.73" x2="621.78" y2="382.72"/><line x1="616.17" y1="389.25" x2="623.53" y2="385.00"/><line x1="616.41" y1="389.85" x2="624.63" y2="387.65"/><line x1="616.50" y1="390.50" x2="625.00" y2="390.50"/></g>
<path d="M614 387.2 L609 399 L619 399 Z" fill="#fff"/>
<path d="M614 389.6 L611.4 396.5 L616.6 396.5 Z" fill="#b9b9b9"/>
<text transform="translate(627.6,394.1) scale(1.36,0.96)" font-size="15.6" font-weight="bold" font-style="italic" stroke="#b9b9b9" stroke-width="0.7">Fidelity</text>
<text x="626.5" y="398.2" font-size="3.6" font-weight="bold" letter-spacing="2.1" fill="#a6a6a6">INVESTMENTS</text>
</g>
</svg>
</body></html>
